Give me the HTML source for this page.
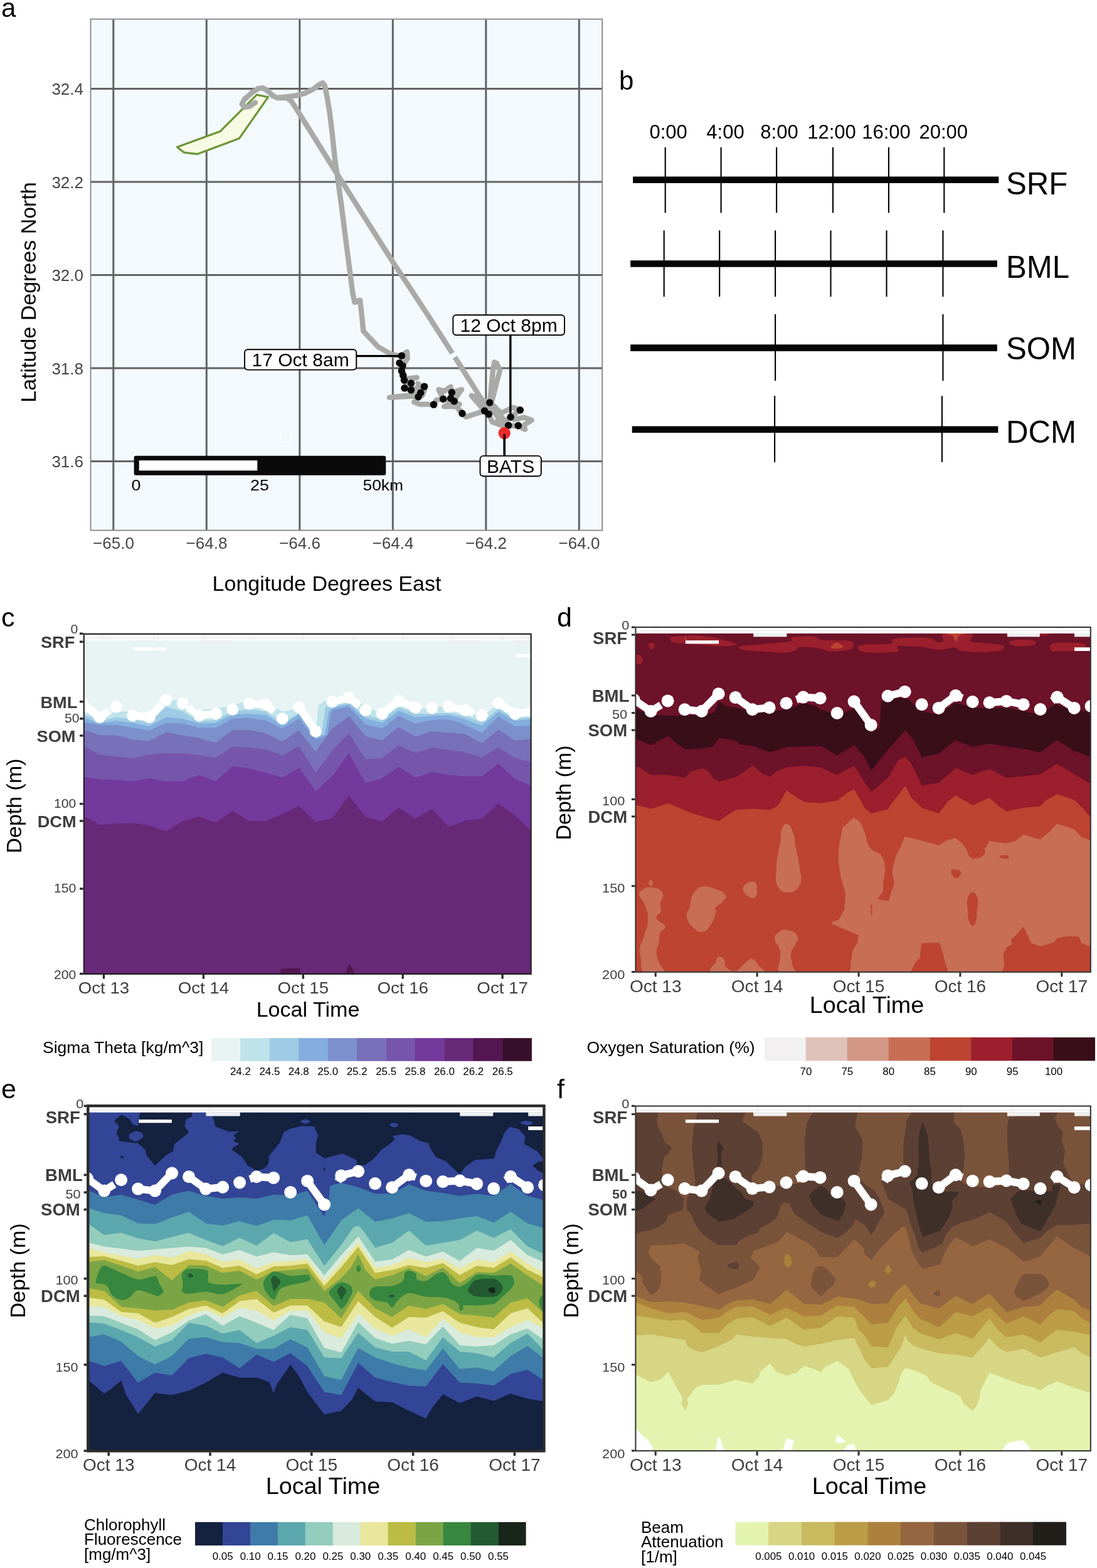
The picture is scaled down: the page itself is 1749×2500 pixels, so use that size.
<!DOCTYPE html>
<html lang="en"><head><meta charset="utf-8"><title>Figure</title>
<style>html,body{margin:0;padding:0;background:#fff}svg{display:block}text{font-family:"Liberation Sans",Arial,Helvetica,sans-serif}</style>
</head><body>
<svg width="1749" height="2500" viewBox="0 0 1749 2500" role="img" aria-label="Figure with panels a to f">
<rect width="1749" height="2500" fill="#fff"/>
<text x="2" y="27" font-size="42" fill="#000">a</text>
<rect x="144.5" y="30.5" width="815.7" height="815.1" fill="#f3f9fc"/>
<line x1="180.8" y1="30.5" x2="180.8" y2="845.6" stroke="#626262" stroke-width="3.0"/>
<line x1="329.3" y1="30.5" x2="329.3" y2="845.6" stroke="#626262" stroke-width="3.0"/>
<line x1="477.8" y1="30.5" x2="477.8" y2="845.6" stroke="#626262" stroke-width="3.0"/>
<line x1="626.3" y1="30.5" x2="626.3" y2="845.6" stroke="#626262" stroke-width="3.0"/>
<line x1="774.8" y1="30.5" x2="774.8" y2="845.6" stroke="#626262" stroke-width="3.0"/>
<line x1="923.3" y1="30.5" x2="923.3" y2="845.6" stroke="#626262" stroke-width="3.0"/>
<line x1="144.5" y1="141.5" x2="960.2" y2="141.5" stroke="#626262" stroke-width="3.0"/>
<line x1="144.5" y1="290" x2="960.2" y2="290" stroke="#626262" stroke-width="3.0"/>
<line x1="144.5" y1="438.5" x2="960.2" y2="438.5" stroke="#626262" stroke-width="3.0"/>
<line x1="144.5" y1="587" x2="960.2" y2="587" stroke="#626262" stroke-width="3.0"/>
<line x1="144.5" y1="735.5" x2="960.2" y2="735.5" stroke="#626262" stroke-width="3.0"/>
<rect x="144.5" y="30.5" width="815.7" height="815.1" fill="none" stroke="#858585" stroke-width="1.8"/>
<text x="181" y="874.5" font-size="26" text-anchor="middle" fill="#464646">−65.0</text>
<text x="329.5" y="874.5" font-size="26" text-anchor="middle" fill="#464646">−64.8</text>
<text x="478" y="874.5" font-size="26" text-anchor="middle" fill="#464646">−64.6</text>
<text x="626.5" y="874.5" font-size="26" text-anchor="middle" fill="#464646">−64.4</text>
<text x="775" y="874.5" font-size="26" text-anchor="middle" fill="#464646">−64.2</text>
<text x="923.5" y="874.5" font-size="26" text-anchor="middle" fill="#464646">−64.0</text>
<text x="133" y="151.3" font-size="26" text-anchor="end" fill="#464646">32.4</text>
<text x="133" y="299.8" font-size="26" text-anchor="end" fill="#464646">32.2</text>
<text x="133" y="448.3" font-size="26" text-anchor="end" fill="#464646">32.0</text>
<text x="133" y="596.8" font-size="26" text-anchor="end" fill="#464646">31.8</text>
<text x="133" y="745.3" font-size="26" text-anchor="end" fill="#464646">31.6</text>
<text x="521" y="942" font-size="34" text-anchor="middle" fill="#000">Longitude Degrees East</text>
<text x="57" y="466" font-size="34" text-anchor="middle" fill="#000" transform="rotate(-90 57 466)">Latitude Degrees North</text>
<polygon points="282.4,234.5 350.9,209.6 409.4,151.1 427.4,154.8 381.3,220.8 314.3,245.7 293.6,243.2" fill="#f8fbe3" stroke="#6c9436" stroke-width="3.2" stroke-linejoin="round"/>
<polyline points="406.9,163.5 398.2,169.7 389.5,171 385.8,166 389.5,158.5 402,147.3 411.9,141.1 419.4,140.3 426.9,144.8 434.3,152.3 441.8,156 456.8,154.3 471.7,152.3 486.7,148.6 499.1,142.3 509.1,134.9 514.5,132.4 517.8,136.1 521.5,154.8 525.3,177.2 529,207.1 534,254.4 539,289.3 543.9,324.2 550.2,374 562.3,467 565.4,482 574,478.5 576.5,500 579.4,528 602.7,552.9 624.5,565.4 640.7,567.6" fill="none" stroke="#a9aaa7" stroke-width="8.4" stroke-linecap="round" stroke-linejoin="round"/>
<polyline points="441.8,156 456.8,156 464.2,161 471.7,172.2 534,271.9 626.1,417.2 680.6,500 721.2,563.2" fill="none" stroke="#a9aaa7" stroke-width="8.4" stroke-linecap="butt" stroke-linejoin="round"/>
<polyline points="725.2,569.4 774.3,647" fill="none" stroke="#a9aaa7" stroke-width="8.4" stroke-linecap="butt" stroke-linejoin="round"/>
<polyline points="640.4,567.4 648.8,560.9 649.7,571.4 642.7,581.8 641,592.3 643.6,604.5 664.5,601.9 650.6,606.2 645.3,618.5 655.8,621.9 669.7,616.7 678.5,615 669.7,627.2 657.5,629.8 620.9,633.6 657.5,631.5 667.1,634.1 660.1,641.1 669.7,644.6 681.9,644.6 691.5,645.1 695.9,637.6 706.7,636.2 699.4,621.1 708.1,623.7 718.5,616.7 720.3,625.8 736,621.1 729,630.7 724.1,639.7 708.1,648.1 727.3,648.1 736.9,659.1 743,664.7 772.6,655.1 779.2,660.3 784.8,672.5 798.7,677.7 810.6,678.2 826.6,679.5 837.1,684.7 835.4,677.7 847.6,669.9 835.4,665.5 819.7,669 814.1,665 829.3,653.8 817.9,649.8 798.7,658.5 788.3,648.1 780.8,642 751.7,630.7 772.6,655.1" fill="none" stroke="#a9aaa7" stroke-width="8.4" stroke-linecap="round" stroke-linejoin="round"/>
<polyline points="781.3,639.4 785.7,592.3 788.3,577.5 791.8,579.2 797,590.6 791.8,609.7 784.8,637.6" fill="none" stroke="#a9aaa7" stroke-width="8.4" stroke-linecap="round" stroke-linejoin="round"/>
<polyline points="774.3,647 774.3,642.9 791.8,662 804,679.5" fill="none" stroke="#a9aaa7" stroke-width="8.4" stroke-linecap="round" stroke-linejoin="round"/>
<polyline points="784.8,651.6 800.5,665.5 791.8,672.5 809.2,669" fill="none" stroke="#a9aaa7" stroke-width="8.4" stroke-linecap="round" stroke-linejoin="round"/>
<polyline points="715.1,637.6 732.5,644.6 722,644.6" fill="none" stroke="#a9aaa7" stroke-width="8.4" stroke-linecap="round" stroke-linejoin="round"/>
<polyline points="666.2,611.5 676.7,621.9 673.2,630.7" fill="none" stroke="#a9aaa7" stroke-width="8.4" stroke-linecap="round" stroke-linejoin="round"/>
<line x1="813.8" y1="533" x2="813.8" y2="665" stroke="#000" stroke-width="3.4"/>
<line x1="567" y1="567.6" x2="640.5" y2="567.6" stroke="#000" stroke-width="3.4"/>
<line x1="804.2" y1="691" x2="804.2" y2="728" stroke="#000" stroke-width="3"/>
<circle cx="640.4" cy="567.4" r="5.8" fill="#0a0a0a"/>
<circle cx="637" cy="578.7" r="5.8" fill="#0a0a0a"/>
<circle cx="641.8" cy="583.2" r="5.8" fill="#0a0a0a"/>
<circle cx="640.4" cy="591.4" r="5.8" fill="#0a0a0a"/>
<circle cx="642.7" cy="598.4" r="5.8" fill="#0a0a0a"/>
<circle cx="644.5" cy="606.2" r="5.8" fill="#0a0a0a"/>
<circle cx="655.4" cy="611.1" r="5.8" fill="#0a0a0a"/>
<circle cx="645" cy="618.8" r="5.8" fill="#0a0a0a"/>
<circle cx="655.4" cy="621.9" r="5.8" fill="#0a0a0a"/>
<circle cx="676.4" cy="616.4" r="5.8" fill="#0a0a0a"/>
<circle cx="670.6" cy="626.3" r="5.8" fill="#0a0a0a"/>
<circle cx="667.1" cy="632.7" r="5.8" fill="#0a0a0a"/>
<circle cx="691.5" cy="645.1" r="5.8" fill="#0a0a0a"/>
<circle cx="706.7" cy="636.2" r="5.8" fill="#0a0a0a"/>
<circle cx="720.3" cy="625.8" r="5.8" fill="#0a0a0a"/>
<circle cx="718.5" cy="635" r="5.8" fill="#0a0a0a"/>
<circle cx="724.1" cy="639.7" r="5.8" fill="#0a0a0a"/>
<circle cx="736.9" cy="659.1" r="5.8" fill="#0a0a0a"/>
<circle cx="780.8" cy="642" r="5.8" fill="#0a0a0a"/>
<circle cx="772.6" cy="655.1" r="5.8" fill="#0a0a0a"/>
<circle cx="779.2" cy="660.3" r="5.8" fill="#0a0a0a"/>
<circle cx="814.1" cy="665" r="5.8" fill="#0a0a0a"/>
<circle cx="829.3" cy="653.8" r="5.8" fill="#0a0a0a"/>
<circle cx="810.6" cy="678.2" r="5.8" fill="#0a0a0a"/>
<circle cx="826.3" cy="678.6" r="5.8" fill="#0a0a0a"/>
<circle cx="804.2" cy="690.6" r="9.6" fill="#eb2a2c"/>
<line x1="804.2" y1="692" x2="804.2" y2="728" stroke="#000" stroke-width="3.4"/>
<circle cx="456" cy="696" r="9.5" fill="none" stroke="#fff" stroke-width="1.6"/>
<rect x="722.3" y="502.3" width="177.7" height="31.9" rx="5" ry="5" fill="#fff" stroke="#000" stroke-width="1.9"/>
<text x="811.1" y="529" font-size="30" text-anchor="middle" fill="#000">12 Oct 8pm</text>
<rect x="390" y="557.3" width="178.2" height="32.3" rx="5" ry="5" fill="#fff" stroke="#000" stroke-width="1.9"/>
<text x="479.1" y="584" font-size="30" text-anchor="middle" fill="#000">17 Oct 8am</text>
<rect x="765.5" y="726.9" width="97.3" height="32.4" rx="5" ry="5" fill="#fff" stroke="#000" stroke-width="1.9"/>
<text x="814.1" y="754" font-size="30" text-anchor="middle" fill="#000">BATS</text>
<rect x="213.6" y="726.7" width="401.6" height="31.1" rx="3" ry="3" fill="#0a0a0a"/>
<rect x="221.7" y="734.1" width="188.6" height="16.2" fill="#fff"/>
<text transform="translate(217 781.8) scale(1.12 1)" font-size="24" text-anchor="middle" fill="#000">0</text>
<text transform="translate(414 781.8) scale(1.12 1)" font-size="24" text-anchor="middle" fill="#000">25</text>
<text transform="translate(578.5 781.8) scale(1.1 1)" font-size="24" fill="#000">50km</text>
<text x="987" y="143" font-size="42" fill="#000">b</text>
<text x="1065.6" y="221" font-size="31" text-anchor="middle" fill="#000">0:00</text>
<text x="1156.5" y="221" font-size="31" text-anchor="middle" fill="#000">4:00</text>
<text x="1242.5" y="221" font-size="31" text-anchor="middle" fill="#000">8:00</text>
<text x="1326" y="221" font-size="31" text-anchor="middle" fill="#000">12:00</text>
<text x="1413" y="221" font-size="31" text-anchor="middle" fill="#000">16:00</text>
<text x="1504.3" y="221" font-size="31" text-anchor="middle" fill="#000">20:00</text>
<line x1="1060.7" y1="234.8" x2="1060.7" y2="339.4" stroke="#000" stroke-width="2.1"/>
<line x1="1149.6" y1="234.8" x2="1149.6" y2="339.4" stroke="#000" stroke-width="2.1"/>
<line x1="1238.1" y1="234.8" x2="1238.1" y2="339.4" stroke="#000" stroke-width="2.1"/>
<line x1="1328" y1="234.8" x2="1328" y2="339.4" stroke="#000" stroke-width="2.1"/>
<line x1="1416.9" y1="234.8" x2="1416.9" y2="339.4" stroke="#000" stroke-width="2.1"/>
<line x1="1505.3" y1="234.8" x2="1505.3" y2="339.4" stroke="#000" stroke-width="2.1"/>
<line x1="1009.1" y1="286.8" x2="1592.3" y2="286.8" stroke="#050505" stroke-width="10.6"/>
<text x="1604" y="309.9" font-size="49.2" fill="#000">SRF</text>
<line x1="1058.7" y1="367.4" x2="1058.7" y2="473" stroke="#000" stroke-width="2.1"/>
<line x1="1147.2" y1="367.4" x2="1147.2" y2="473" stroke="#000" stroke-width="2.1"/>
<line x1="1236.1" y1="367.4" x2="1236.1" y2="473" stroke="#000" stroke-width="2.1"/>
<line x1="1324.5" y1="367.4" x2="1324.5" y2="473" stroke="#000" stroke-width="2.1"/>
<line x1="1413.5" y1="367.4" x2="1413.5" y2="473" stroke="#000" stroke-width="2.1"/>
<line x1="1503.4" y1="367.4" x2="1503.4" y2="473" stroke="#000" stroke-width="2.1"/>
<line x1="1005.2" y1="420.5" x2="1589.8" y2="420.5" stroke="#050505" stroke-width="10.6"/>
<text x="1604" y="442.6" font-size="49.2" fill="#000">BML</text>
<line x1="1236.1" y1="501" x2="1236.1" y2="607.1" stroke="#000" stroke-width="2.1"/>
<line x1="1503.4" y1="501" x2="1503.4" y2="607.1" stroke="#000" stroke-width="2.1"/>
<line x1="1005.2" y1="554.6" x2="1589.8" y2="554.6" stroke="#050505" stroke-width="10.6"/>
<text x="1604" y="572.8" font-size="49.2" fill="#000">SOM</text>
<line x1="1235.1" y1="631.2" x2="1235.1" y2="736.8" stroke="#000" stroke-width="2.1"/>
<line x1="1501.9" y1="631.2" x2="1501.9" y2="736.8" stroke="#000" stroke-width="2.1"/>
<line x1="1007.7" y1="684.8" x2="1591.3" y2="684.8" stroke="#050505" stroke-width="10.6"/>
<text x="1604" y="706.4" font-size="49.2" fill="#000">DCM</text>
<text x="2" y="999" font-size="43" fill="#000">c</text>
<clipPath id="cpc"><rect x="133.8" y="1010.8" width="712.8" height="542.1"/></clipPath>
<g clip-path="url(#cpc)">
<rect x="133.8" y="1010.8" width="712.8" height="542.1" fill="#e8f4f4"/>
<polygon points="102.2,1134.5 132.2,1134.5 158.7,1143.5 185.2,1134.5 211.7,1134.5 238.2,1137.9 264.7,1115.4 291.2,1116.6 317.7,1132.3 344.2,1130 370.7,1124.4 397.2,1116.6 423.7,1118.8 450.2,1134.5 476.7,1130 503.2,1172.6 507.2,1125.5 513.8,1119.9 529.7,1112.1 556.2,1105.4 582.7,1125.5 609.2,1139 635.7,1121 662.2,1132.3 688.7,1126.7 715.2,1126.7 741.7,1134.5 768.2,1143.5 794.7,1121 821.2,1139 847.7,1134.5 877.7,1134.5 886.6,1557.9 93.8,1557.9" fill="#bfe3ea"/>
<polygon points="102.2,1137.9 132.2,1137.9 158.7,1150.2 185.2,1143.5 211.7,1146.8 238.2,1152.4 264.7,1126.7 291.2,1134.5 317.7,1150.2 344.2,1147.9 370.7,1134.5 397.2,1131.1 423.7,1134.5 450.2,1152.4 476.7,1136.7 503.2,1176 513.8,1161.4 519.1,1126.7 529.7,1125.5 556.2,1121 582.7,1141.2 609.2,1146.8 635.7,1127.8 662.2,1137.9 688.7,1137.9 715.2,1136.7 741.7,1142.3 768.2,1151.3 794.7,1130 821.2,1145.7 847.7,1143.5 877.7,1143.5 886.6,1557.9 93.8,1557.9" fill="#9fcbe4"/>
<polygon points="102.2,1143.5 132.2,1143.5 158.7,1153.6 185.2,1149.1 211.7,1152.4 238.2,1158 264.7,1143.5 291.2,1145.7 317.7,1153.6 344.2,1152.4 370.7,1139 397.2,1137.9 423.7,1140.1 450.2,1155.8 476.7,1139 503.2,1177.1 517.8,1170.4 523.9,1134.5 529.7,1128.9 556.2,1123.3 582.7,1145.7 609.2,1152.4 635.7,1133.4 662.2,1143.5 688.7,1141.2 715.2,1140.1 741.7,1146.8 768.2,1156.9 794.7,1134.5 821.2,1149.1 847.7,1146.8 877.7,1146.8 886.6,1557.9 93.8,1557.9" fill="#84aede"/>
<polygon points="102.2,1151.3 132.2,1151.3 158.7,1155.8 185.2,1155.8 211.7,1160.3 238.2,1164.8 264.7,1152.4 291.2,1153.6 317.7,1160.3 344.2,1160.3 370.7,1145.7 397.2,1144.6 423.7,1149.1 450.2,1161.4 476.7,1145.7 503.2,1179.3 521.8,1172.6 527,1139 529.7,1132.3 556.2,1127.3 582.7,1154.7 609.2,1161.4 635.7,1141.2 662.2,1153.6 688.7,1147.9 715.2,1146.8 741.7,1155.8 768.2,1168.1 794.7,1142.3 821.2,1158 847.7,1156.9 877.7,1156.9 886.6,1557.9 93.8,1557.9" fill="#7c90cc"/>
<polygon points="102.2,1163.6 132.2,1163.6 158.7,1172.2 185.2,1172.2 211.7,1179.3 238.2,1181.6 264.7,1167 291.2,1172.6 317.7,1177.1 344.2,1184.3 370.7,1164.1 397.2,1164.1 423.7,1169.2 450.2,1182 476.7,1164.8 503.2,1198.4 529.7,1161.4 556.2,1142.3 582.7,1173.7 609.2,1180.5 635.7,1159.2 662.2,1174.4 688.7,1166.3 715.2,1167.7 741.7,1170.8 768.2,1184.9 794.7,1163.6 821.2,1180.5 847.7,1178.2 877.7,1178.2 886.6,1557.9 93.8,1557.9" fill="#7870b8"/>
<polygon points="102.2,1189.4 132.2,1189.4 158.7,1202.9 185.2,1206.2 211.7,1208.9 238.2,1202.9 264.7,1201.1 291.2,1201.1 317.7,1204 344.2,1208 370.7,1190.5 397.2,1191.7 423.7,1195 450.2,1204.4 476.7,1189.4 503.2,1232 529.7,1197.3 556.2,1169.2 582.7,1210.7 609.2,1208.5 635.7,1187.9 662.2,1200.6 688.7,1191.7 715.2,1196.1 741.7,1199.5 768.2,1207.4 794.7,1191.7 821.2,1208.5 847.7,1215.2 877.7,1215.2 886.6,1557.9 93.8,1557.9" fill="#7656aa"/>
<polygon points="102.2,1238.7 132.2,1238.7 158.7,1242.5 185.2,1243.2 211.7,1246.1 238.2,1241 264.7,1246.1 291.2,1245.5 317.7,1235.4 344.2,1245.5 370.7,1221.5 397.2,1225.3 423.7,1232 450.2,1239.9 476.7,1224.2 503.2,1261.2 529.7,1237.6 556.2,1201.1 582.7,1248.4 609.2,1241 635.7,1222.6 662.2,1239.9 688.7,1230.9 715.2,1235.4 741.7,1237.6 768.2,1237.6 794.7,1217.4 821.2,1242.1 847.7,1253.3 877.7,1253.3 886.6,1557.9 93.8,1557.9" fill="#73399c"/>
<polygon points="102.2,1300.4 132.2,1300.4 158.7,1315 185.2,1313.4 211.7,1312.3 238.2,1316.1 264.7,1325.5 291.2,1309.3 317.7,1302.2 344.2,1311.6 370.7,1292.5 397.2,1308.9 423.7,1308.9 450.2,1298.1 476.7,1285.1 503.2,1310.5 529.7,1304.9 556.2,1268.5 582.7,1302.6 609.2,1310 635.7,1287.4 662.2,1305.3 688.7,1289.8 715.2,1318.3 741.7,1308.2 768.2,1304.9 794.7,1281.3 821.2,1300.4 847.7,1325 877.7,1325 886.6,1557.9 93.8,1557.9" fill="#672878"/>
<polygon points="446,1554 448,1544.5 478,1543.5 480,1554" fill="#541650"/>
<polygon points="550,1554 557,1536 567,1554" fill="#541650"/>
<rect x="133.8" y="1010.8" width="712.8" height="10.4" fill="#fbfbfb"/>
<line x1="133.8" y1="1016.8" x2="846.6" y2="1016.8" stroke="#ebebeb" stroke-width="1.4"/>
<line x1="165.9" y1="1012" x2="165.9" y2="1021.2" stroke="#ebebeb" stroke-width="1.4"/>
<line x1="245.4" y1="1012" x2="245.4" y2="1021.2" stroke="#ebebeb" stroke-width="1.4"/>
<line x1="324.8" y1="1012" x2="324.8" y2="1021.2" stroke="#ebebeb" stroke-width="1.4"/>
<line x1="404.2" y1="1012" x2="404.2" y2="1021.2" stroke="#ebebeb" stroke-width="1.4"/>
<line x1="483.7" y1="1012" x2="483.7" y2="1021.2" stroke="#ebebeb" stroke-width="1.4"/>
<line x1="563.1" y1="1012" x2="563.1" y2="1021.2" stroke="#ebebeb" stroke-width="1.4"/>
<line x1="642.6" y1="1012" x2="642.6" y2="1021.2" stroke="#ebebeb" stroke-width="1.4"/>
<line x1="722" y1="1012" x2="722" y2="1021.2" stroke="#ebebeb" stroke-width="1.4"/>
<line x1="801.5" y1="1012" x2="801.5" y2="1021.2" stroke="#ebebeb" stroke-width="1.4"/>
<line x1="881" y1="1012" x2="881" y2="1021.2" stroke="#ebebeb" stroke-width="1.4"/>
<rect x="318.3" y="1021" width="52.7" height="5.2" fill="#eceff0"/>
<rect x="714.8" y="1021" width="52.7" height="5.2" fill="#eceff0"/>
<rect x="821.8" y="1021" width="24.7" height="5.2" fill="#eceff0"/>
<rect x="212.5" y="1032" width="31.8" height="5" fill="#fff"/>
<rect x="246.1" y="1032" width="18.4" height="5" fill="#fff"/>
<rect x="821.8" y="1042.6" width="24.7" height="5.1" fill="#fff"/>
<polyline points="132.2,1122.2 158.7,1143.5 174.6,1133.4" fill="none" stroke="#fff" stroke-width="12" stroke-linecap="butt" stroke-linejoin="round"/>
<polyline points="211.7,1140.8 238.2,1143.5 258.1,1123" fill="none" stroke="#fff" stroke-width="12" stroke-linecap="butt" stroke-linejoin="round"/>
<polyline points="299.1,1127.3 317.7,1140.8 344.2,1137.9" fill="none" stroke="#fff" stroke-width="12" stroke-linecap="butt" stroke-linejoin="round"/>
<polyline points="397.2,1122.2 423.7,1123.3 436.9,1134.5" fill="none" stroke="#fff" stroke-width="12" stroke-linecap="butt" stroke-linejoin="round"/>
<polyline points="476.7,1127.8 503.2,1165.9" fill="none" stroke="#fff" stroke-width="12" stroke-linecap="butt" stroke-linejoin="round"/>
<polyline points="529.7,1118.8 556.2,1112.1 573.4,1125.2" fill="none" stroke="#fff" stroke-width="12" stroke-linecap="butt" stroke-linejoin="round"/>
<polyline points="609.2,1137.9 635.7,1117.7 662.2,1128.2" fill="none" stroke="#fff" stroke-width="12" stroke-linecap="butt" stroke-linejoin="round"/>
<polyline points="715.2,1126.7 741.7,1132.3 755,1136.4" fill="none" stroke="#fff" stroke-width="12" stroke-linecap="butt" stroke-linejoin="round"/>
<polyline points="794.7,1121 821.2,1138.3 847.7,1134.5" fill="none" stroke="#fff" stroke-width="12" stroke-linecap="butt" stroke-linejoin="round"/>
<circle cx="132.2" cy="1122.2" r="9.6" fill="#fff"/>
<circle cx="158.7" cy="1143.5" r="9.6" fill="#fff"/>
<circle cx="185.2" cy="1126.7" r="9.6" fill="#fff"/>
<circle cx="211.7" cy="1140.8" r="9.6" fill="#fff"/>
<circle cx="238.2" cy="1143.5" r="9.6" fill="#fff"/>
<circle cx="264.7" cy="1116.1" r="9.6" fill="#fff"/>
<circle cx="291.2" cy="1121.5" r="9.6" fill="#fff"/>
<circle cx="317.7" cy="1140.8" r="9.6" fill="#fff"/>
<circle cx="344.2" cy="1137.9" r="9.6" fill="#fff"/>
<circle cx="370.7" cy="1131.1" r="9.6" fill="#fff"/>
<circle cx="397.2" cy="1122.2" r="9.6" fill="#fff"/>
<circle cx="423.7" cy="1123.3" r="9.6" fill="#fff"/>
<circle cx="450.2" cy="1145.7" r="9.6" fill="#fff"/>
<circle cx="476.7" cy="1127.8" r="9.6" fill="#fff"/>
<circle cx="503.2" cy="1165.9" r="9.6" fill="#fff"/>
<circle cx="529.7" cy="1118.8" r="9.6" fill="#fff"/>
<circle cx="556.2" cy="1112.1" r="9.6" fill="#fff"/>
<circle cx="582.7" cy="1132.3" r="9.6" fill="#fff"/>
<circle cx="609.2" cy="1137.9" r="9.6" fill="#fff"/>
<circle cx="635.7" cy="1117.7" r="9.6" fill="#fff"/>
<circle cx="662.2" cy="1128.2" r="9.6" fill="#fff"/>
<circle cx="688.7" cy="1128.9" r="9.6" fill="#fff"/>
<circle cx="715.2" cy="1126.7" r="9.6" fill="#fff"/>
<circle cx="741.7" cy="1132.3" r="9.6" fill="#fff"/>
<circle cx="768.2" cy="1140.6" r="9.6" fill="#fff"/>
<circle cx="794.7" cy="1121" r="9.6" fill="#fff"/>
<circle cx="821.2" cy="1138.3" r="9.6" fill="#fff"/>
<circle cx="847.7" cy="1134.5" r="9.6" fill="#fff"/>
</g>
<rect x="133.8" y="1010.8" width="712.8" height="542.1" fill="none" stroke="#222" stroke-width="2.2"/>
<line x1="127" y1="1010.2" x2="132.7" y2="1010.2" stroke="#2e2e2e" stroke-width="3.4"/>
<line x1="127" y1="1023.2" x2="132.7" y2="1023.2" stroke="#2e2e2e" stroke-width="3.4"/>
<line x1="127" y1="1118.7" x2="132.7" y2="1118.7" stroke="#2e2e2e" stroke-width="3.4"/>
<line x1="127" y1="1145.8" x2="132.7" y2="1145.8" stroke="#2e2e2e" stroke-width="3.4"/>
<line x1="127" y1="1172.9" x2="132.7" y2="1172.9" stroke="#2e2e2e" stroke-width="3.4"/>
<line x1="127" y1="1281.7" x2="132.7" y2="1281.7" stroke="#2e2e2e" stroke-width="3.4"/>
<line x1="127" y1="1308.9" x2="132.7" y2="1308.9" stroke="#2e2e2e" stroke-width="3.4"/>
<line x1="127" y1="1417" x2="132.7" y2="1417" stroke="#2e2e2e" stroke-width="3.4"/>
<line x1="127" y1="1552.6" x2="132.7" y2="1552.6" stroke="#2e2e2e" stroke-width="3.4"/>
<text transform="translate(124.4 1010) scale(1.04 1)" font-size="20.4" text-anchor="end" fill="#3e3e3e">0</text>
<text transform="translate(126.6 1152) scale(1.04 1)" font-size="20.4" text-anchor="end" fill="#3e3e3e">50</text>
<text transform="translate(121.4 1287.9) scale(1.04 1)" font-size="20.4" text-anchor="end" fill="#3e3e3e">100</text>
<text transform="translate(121.4 1423.3) scale(1.04 1)" font-size="20.4" text-anchor="end" fill="#3e3e3e">150</text>
<text transform="translate(121.4 1560.8) scale(1.04 1)" font-size="20.4" text-anchor="end" fill="#3e3e3e">200</text>
<text transform="translate(119.4 1033.4) scale(1.02 1)" font-size="26.7" text-anchor="end" font-weight="bold" fill="#3e3e3e">SRF</text>
<text transform="translate(123.4 1128.5) scale(1.02 1)" font-size="26.7" text-anchor="end" font-weight="bold" fill="#3e3e3e">BML</text>
<text transform="translate(120.5 1183) scale(1.02 1)" font-size="26.7" text-anchor="end" font-weight="bold" fill="#3e3e3e">SOM</text>
<text transform="translate(121.7 1319) scale(1.02 1)" font-size="26.7" text-anchor="end" font-weight="bold" fill="#3e3e3e">DCM</text>
<line x1="165.5" y1="1554" x2="165.5" y2="1560.7" stroke="#2e2e2e" stroke-width="3.4"/>
<text transform="translate(165.5 1583.8) scale(1.04 1)" font-size="26.6" text-anchor="middle" fill="#3e3e3e">Oct 13</text>
<line x1="324.4" y1="1554" x2="324.4" y2="1560.7" stroke="#2e2e2e" stroke-width="3.4"/>
<text transform="translate(324.4 1583.8) scale(1.04 1)" font-size="26.6" text-anchor="middle" fill="#3e3e3e">Oct 14</text>
<line x1="483.3" y1="1554" x2="483.3" y2="1560.7" stroke="#2e2e2e" stroke-width="3.4"/>
<text transform="translate(483.3 1583.8) scale(1.04 1)" font-size="26.6" text-anchor="middle" fill="#3e3e3e">Oct 15</text>
<line x1="642.2" y1="1554" x2="642.2" y2="1560.7" stroke="#2e2e2e" stroke-width="3.4"/>
<text transform="translate(642.2 1583.8) scale(1.04 1)" font-size="26.6" text-anchor="middle" fill="#3e3e3e">Oct 16</text>
<line x1="801.1" y1="1554" x2="801.1" y2="1560.7" stroke="#2e2e2e" stroke-width="3.4"/>
<text transform="translate(801.1 1583.8) scale(1.04 1)" font-size="26.6" text-anchor="middle" fill="#3e3e3e">Oct 17</text>
<text x="34" y="1285" font-size="34" text-anchor="middle" fill="#000" transform="rotate(-90 34 1285)">Depth (m)</text>
<text transform="translate(491 1621) scale(1.02 1)" font-size="33.4" text-anchor="middle" fill="#000">Local Time</text>
<text x="68" y="1678.5" font-size="26.5" fill="#000">Sigma Theta [kg/m^3]</text>
<rect x="336.8" y="1655.1" width="46.8" height="36.7" fill="#e8f4f4"/>
<rect x="383.2" y="1655.1" width="46.8" height="36.7" fill="#bfe3ea"/>
<rect x="429.7" y="1655.1" width="46.8" height="36.7" fill="#9fcbe4"/>
<rect x="476.1" y="1655.1" width="46.8" height="36.7" fill="#84aede"/>
<rect x="522.5" y="1655.1" width="46.8" height="36.7" fill="#7c90cc"/>
<rect x="568.9" y="1655.1" width="46.8" height="36.7" fill="#7870b8"/>
<rect x="615.4" y="1655.1" width="46.8" height="36.7" fill="#7656aa"/>
<rect x="661.8" y="1655.1" width="46.8" height="36.7" fill="#73399c"/>
<rect x="708.2" y="1655.1" width="46.8" height="36.7" fill="#672878"/>
<rect x="754.6" y="1655.1" width="46.8" height="36.7" fill="#541650"/>
<rect x="801.1" y="1655.1" width="46.8" height="36.7" fill="#36102a"/>
<text x="383.4" y="1714.2" font-size="16.9" text-anchor="middle" fill="#000">24.2</text>
<text x="429.9" y="1714.2" font-size="16.9" text-anchor="middle" fill="#000">24.5</text>
<text x="476.3" y="1714.2" font-size="16.9" text-anchor="middle" fill="#000">24.8</text>
<text x="522.7" y="1714.2" font-size="16.9" text-anchor="middle" fill="#000">25.0</text>
<text x="569.1" y="1714.2" font-size="16.9" text-anchor="middle" fill="#000">25.2</text>
<text x="615.6" y="1714.2" font-size="16.9" text-anchor="middle" fill="#000">25.5</text>
<text x="662" y="1714.2" font-size="16.9" text-anchor="middle" fill="#000">25.8</text>
<text x="708.4" y="1714.2" font-size="16.9" text-anchor="middle" fill="#000">26.0</text>
<text x="754.8" y="1714.2" font-size="16.9" text-anchor="middle" fill="#000">26.2</text>
<text x="801.3" y="1714.2" font-size="16.9" text-anchor="middle" fill="#000">26.5</text>
<text x="888" y="998.5" font-size="43" fill="#000">d</text>
<clipPath id="cpd"><rect x="1013.4" y="1000" width="725.4" height="549.8"/></clipPath>
<g clip-path="url(#cpd)">
<rect x="1013.4" y="1000" width="725.4" height="549.8" fill="#6c1229"/>
<path d="M1034.2,1026.9C1035.1,1025.4 1036.6,1024.9 1038.8,1025C1040.9,1025.1 1042.6,1025.5 1043.4,1027.3C1044.2,1029.1 1043.6,1030.7 1042.3,1032.6C1040.9,1034.5 1039.4,1035.7 1037.6,1035.4C1035.9,1035.1 1035.7,1033.5 1034.9,1031.5C1034.1,1029.5 1033.3,1028.4 1034.2,1026.9Z" fill="#9b1f2c"/>
<path d="M1013.5,1044.8C1015.3,1042 1020.3,1043.9 1022.7,1046.4C1025.1,1049 1025.7,1052.9 1023.8,1055.7C1021.9,1058.5 1017,1061 1014.6,1058.4C1012.2,1055.9 1011.6,1047.6 1013.5,1044.8Z" fill="#9b1f2c"/>
<path d="M1069.9,1015.8C1073.8,1014.4 1077.4,1014.4 1086,1013.7C1094.6,1013.1 1096.5,1012.7 1106.8,1013C1117,1013.4 1120.1,1014 1129.8,1015.3C1139.5,1016.7 1138.6,1016.4 1148.2,1018.8C1157.9,1021.2 1166.4,1023.4 1171.3,1025.7C1176.1,1028 1174.3,1027.6 1169,1028.7C1163.6,1029.8 1158.4,1030.3 1148.2,1030.3C1138,1030.3 1135.9,1029.5 1125.2,1028.7C1114.4,1027.9 1114,1027.8 1102.2,1026.9C1090.3,1025.9 1082.1,1026.2 1074.5,1024.6C1066.9,1022.9 1070.5,1022 1069.4,1020C1068.4,1017.9 1066,1017.3 1069.9,1015.8Z" fill="#9b1f2c"/>
<path d="M1179.3,1031.5C1182.3,1030 1185.4,1029.8 1194.3,1028.7C1203.2,1027.6 1206.6,1027.8 1217.3,1026.9C1228.1,1025.9 1230.2,1025.6 1240.4,1024.6C1250.6,1023.5 1256,1024.1 1261.1,1022.3C1266.2,1020.4 1258.5,1018.2 1262.3,1016.5C1266,1014.8 1268.9,1015.3 1277.3,1014.9C1285.6,1014.5 1290.5,1013.7 1298,1014.9C1305.5,1016.1 1301.4,1018.5 1309.5,1020C1317.6,1021.4 1321.8,1020.6 1332.5,1021.1C1343.3,1021.6 1349,1020.6 1355.6,1022.3C1362.1,1023.9 1360.1,1025.3 1360.7,1028C1361.2,1030.7 1360.1,1031.8 1357.9,1033.8C1355.6,1035.8 1358,1035.4 1351,1036.5C1344,1037.7 1337.6,1039.2 1327.9,1038.8C1318.3,1038.5 1316.5,1036.4 1309.5,1034.9C1302.5,1033.5 1306,1033.4 1298,1032.6C1289.9,1031.8 1281.4,1030.7 1274.9,1031.5C1268.5,1032.3 1275.7,1033.9 1270.3,1036.1C1265,1038.2 1264.3,1040 1251.9,1040.7C1239.5,1041.3 1230.8,1039.6 1217.3,1038.8C1203.9,1038 1202.6,1038.1 1194.3,1037.2C1186,1036.3 1185.1,1036.3 1181.6,1034.9C1178.1,1033.6 1176.4,1032.9 1179.3,1031.5Z" fill="#9b1f2c"/>
<path d="M1324.5,1031.5C1324.7,1029.9 1326.7,1028.5 1329.1,1026.9C1331.5,1025.2 1332.2,1024.5 1334.8,1024.6C1337.5,1024.7 1338.5,1025.7 1340.6,1027.3C1342.8,1028.9 1344.9,1030 1344.1,1031.5C1343.3,1033 1340.9,1033.2 1337.2,1033.8C1333.4,1034.3 1330.9,1034.3 1327.9,1033.8C1325,1033.2 1324.2,1033.1 1324.5,1031.5Z" fill="#bc4430"/>
<path d="M1091.1,1017.2C1091.4,1016.4 1092.6,1016.2 1093.4,1016.7C1094.2,1017.3 1094.6,1018.7 1094.3,1019.5C1094,1020.2 1092.8,1020.5 1092,1020C1091.3,1019.4 1090.8,1017.9 1091.1,1017.2Z" fill="#bc4430"/>
<path d="M1369.4,1030.3C1372.4,1028.3 1380,1026.9 1383.2,1028.7C1386.5,1030.5 1386.2,1035.9 1383.2,1037.9C1380.3,1039.9 1373.8,1039 1370.6,1037.2C1367.3,1035.5 1366.4,1032.3 1369.4,1030.3Z" fill="#9b1f2c"/>
<path d="M1374.4,1028.7C1380.3,1026.1 1389,1028 1399.7,1027.3C1410.5,1026.6 1415.1,1027.5 1420.5,1025.7C1425.8,1023.9 1419,1021.5 1422.8,1019.5C1426.5,1017.5 1428,1017.9 1436.6,1017.2C1445.2,1016.5 1448.9,1016.4 1459.6,1016.5C1470.4,1016.6 1475.1,1016.3 1482.7,1017.6C1490.2,1019 1488.4,1020.7 1491.9,1022.3C1495.4,1023.8 1495,1024.4 1497.6,1024.1C1500.3,1023.8 1502.4,1024 1503.4,1021.1C1504.4,1018.3 1500.7,1014.5 1501.8,1011.9C1502.9,1009.3 1497.4,1010.5 1508,1010C1518.6,1009.6 1537.8,1007.2 1547.2,1010C1556.6,1012.9 1544.6,1018.9 1548.3,1022.3C1552.1,1025.6 1554.4,1023.4 1563.3,1024.6C1572.2,1025.7 1578.3,1026.1 1586.3,1027.3C1594.4,1028.5 1594.8,1027.9 1597.9,1029.6C1601,1031.4 1602.4,1032.9 1599.7,1034.9C1597,1037 1594.8,1037.3 1586.3,1038.4C1577.9,1039.5 1574.1,1039.8 1563.3,1039.8C1552.6,1039.8 1547.8,1039 1540.3,1038.4C1532.7,1037.8 1535.4,1038.6 1531.1,1037.2C1526.8,1035.9 1527.2,1033.3 1521.8,1032.6C1516.5,1031.9 1514.5,1033.4 1508,1034.2C1501.6,1035 1502.8,1036.7 1494.2,1036.1C1485.6,1035.4 1481.9,1032.8 1471.2,1031.5C1460.4,1030.2 1457.3,1030.8 1448.1,1030.5C1439,1030.3 1435.9,1028.4 1432,1030.3C1428.1,1032.3 1435.8,1036.5 1431.5,1038.8C1427.2,1041.2 1420.4,1039.8 1413.6,1040.2C1406.7,1040.7 1411.2,1041.1 1402,1040.7C1392.9,1040.3 1380.8,1041.2 1374.4,1038.4C1367.9,1035.6 1368.5,1031.3 1374.4,1028.7Z" fill="#9b1f2c"/>
<path d="M1510.3,1010C1515.2,1009.3 1533.4,1009.3 1538,1010C1542.5,1010.7 1532.5,1011.5 1529.9,1013C1527.3,1014.5 1528,1014.5 1526.9,1016.5C1525.8,1018.5 1526.2,1020.3 1525.3,1021.8C1524.4,1023.2 1524.1,1024 1523,1022.7C1521.9,1021.5 1522,1018.8 1520.7,1016.5C1519.3,1014.2 1519.7,1014.5 1517.2,1013C1514.8,1011.5 1505.5,1010.7 1510.3,1010Z" fill="#bc4430"/>
<path d="M1609.4,1024.6C1609.4,1022.6 1610.9,1022.2 1616.3,1021.1C1621.7,1020 1625.4,1020 1632.4,1020C1639.4,1020 1641.8,1020 1646.3,1021.1C1650.7,1022.2 1651.1,1022.8 1651.3,1024.6C1651.6,1026.3 1651.8,1027.3 1647.4,1028.7C1643,1030.1 1639.7,1030.3 1632.4,1030.5C1625.2,1030.8 1621.7,1031 1616.3,1029.6C1610.9,1028.2 1609.4,1026.5 1609.4,1024.6Z" fill="#9b1f2c"/>
<path d="M1675,1028C1676.7,1025.2 1676.9,1026.1 1683.1,1025.2C1689.3,1024.4 1691.9,1024.5 1701.5,1024.6C1711.2,1024.7 1718,1024.9 1724.6,1025.7C1731.1,1026.5 1728.5,1025.6 1729.7,1028C1730.8,1030.4 1733.5,1033.8 1729.7,1036.1C1725.8,1038.4 1722.3,1037.4 1713.1,1037.9C1703.8,1038.5 1698.6,1038.5 1690,1038.4C1681.4,1038.2 1679.7,1039.6 1676.2,1037.2C1672.7,1034.8 1673.4,1030.8 1675,1028Z" fill="#9b1f2c"/>
<path d="M1658.9,1010C1661.6,1009.2 1670.3,1009.5 1672.7,1010C1675.2,1010.6 1672,1011.5 1669.3,1012.3C1666.6,1013.2 1663.6,1014 1661.2,1013.5C1658.8,1013 1656.2,1010.9 1658.9,1010Z" fill="#9b1f2c"/>
<polygon points="1005.4,1128.2 1014.6,1130.5 1037.6,1140.2 1065.8,1140.9 1092.5,1140.9 1119.4,1139.8 1139,1136.3 1141.8,1128.2 1145.9,1117.9 1154,1123.6 1159.8,1126.4 1173.6,1128.2 1200.1,1134.7 1227.7,1135.1 1254.2,1130.5 1281.9,1120.9 1298,1124.8 1308.8,1131 1334.8,1139.8 1351,1134 1361.8,1129.4 1371.7,1139.8 1389.4,1167.4 1402,1160.5 1403.9,1137.4 1404.8,1117.9 1415.9,1115.6 1432,1112.1 1448.1,1114.4 1457.3,1123.6 1470,1134 1497,1139.8 1510.3,1129.4 1523.7,1120.2 1550.6,1128.2 1577.6,1129.4 1604.8,1128.2 1631.7,1134 1658.5,1139.8 1676.2,1125.9 1685.4,1122.5 1712.4,1135.1 1738.4,1132.8 1747.6,1132.8 1778.8,1554.8 973.4,1554.8" fill="#380e19"/>
<polygon points="1005.4,1174.3 1014.6,1177.8 1037.6,1188.1 1065.8,1173.2 1079.1,1185.8 1092.5,1195 1119.4,1193.2 1136.7,1190.4 1146.4,1176.2 1173.6,1181.2 1180.5,1187 1200.1,1189.3 1227.7,1199.2 1254.2,1191.1 1281.9,1190 1308.8,1189.3 1334.8,1204.3 1361.8,1188.1 1376.3,1204.3 1389.4,1228.5 1415.9,1195 1443.5,1163.9 1457.3,1181.2 1470,1207.7 1497,1200.8 1523.7,1180.1 1550.6,1191.1 1577.6,1185.8 1604.8,1190.4 1631.7,1193.9 1658.5,1199.2 1685.4,1180.1 1712.4,1197.3 1738.4,1206.6 1747.6,1208.9 1778.8,1554.8 973.4,1554.8" fill="#6c1229"/>
<polygon points="1005.4,1221.5 1018.1,1222.7 1037.6,1235.4 1065.8,1235.4 1092.5,1240 1099.9,1230.8 1119.4,1225 1129.8,1229.6 1136.7,1240 1146.4,1246.2 1173.6,1238.8 1200.1,1220.4 1215,1233.1 1227.7,1238.4 1238.1,1229.6 1254.2,1223.2 1281.9,1221.1 1308.8,1223.8 1334.8,1235.4 1361.8,1220.4 1371.7,1236.5 1379,1248 1389.4,1263 1415.9,1240 1432,1212.3 1443.5,1206.6 1452.7,1216.9 1470,1252.6 1497,1248 1523.7,1224.5 1550.6,1235.4 1577.6,1226.1 1604.8,1240 1631.7,1237.7 1658.5,1234.2 1685.4,1218.1 1712.4,1234.2 1738.4,1249.2 1747.6,1251.5 1778.8,1554.8 973.4,1554.8" fill="#9b1f2c"/>
<polygon points="1005.4,1282.6 1014.6,1283.3 1037.6,1289.5 1065.8,1281 1092.5,1292.5 1119.4,1301.7 1146.4,1309.3 1159.8,1299.4 1173.6,1291.3 1200.1,1289.5 1227.7,1291.3 1240.4,1284.4 1254.2,1260.2 1263.4,1267.2 1281.9,1278.7 1308.8,1280.5 1334.8,1276.4 1351,1263.7 1361.8,1258.6 1371.7,1275.2 1379,1289 1389.4,1297.1 1415.9,1290.2 1420.5,1282.1 1443.5,1253.3 1452.7,1271.8 1470,1287.9 1497,1297.1 1510.3,1278.7 1523.7,1268.3 1550.6,1284 1577.6,1271.8 1591,1284.4 1604.8,1293.7 1631.7,1287.9 1658.5,1285.6 1667,1276.4 1685.4,1266 1712.4,1275.2 1724.6,1286.7 1738.4,1302.9 1747.6,1305.6 1778.8,1554.8 973.4,1554.8" fill="#bc4430"/>
<path d="M1037.6,1414.7C1046.2,1415.6 1052.1,1415.7 1056.1,1422.8C1060.1,1429.9 1053.2,1433.2 1052.6,1441.2C1052,1449.2 1055.3,1446.6 1053.8,1452.7C1052.2,1458.9 1045,1457.8 1046.9,1464.3C1048.7,1470.7 1059.1,1470.8 1060.7,1476.9C1062.2,1483.1 1055.4,1480.2 1052.6,1487.3C1049.9,1494.4 1051.9,1495.4 1050.3,1503.4C1048.8,1511.4 1046.9,1509.3 1046.9,1517.3C1046.9,1525.2 1047.6,1524.2 1050.3,1533.4C1053.1,1542.6 1063.1,1546.9 1057.2,1551.8C1051.4,1556.7 1038,1558.6 1028.4,1551.8C1018.9,1545.1 1023.7,1537.5 1021.5,1526.5C1019.4,1515.4 1019.1,1518.9 1020.4,1510.3C1021.6,1501.7 1022.7,1505.9 1026.1,1494.2C1029.5,1482.5 1032.7,1480.7 1033,1466.6C1033.3,1452.4 1031,1451.7 1027.3,1441.2C1023.6,1430.8 1020.1,1433.2 1019.2,1427.4C1018.3,1421.6 1018.9,1422.7 1023.8,1419.3C1028.7,1416 1029,1413.8 1037.6,1414.7Z" fill="#c76e55"/>
<path d="M1037.6,1402.5C1039.4,1402.5 1040.9,1405.1 1040.9,1407.8C1040.9,1410.5 1039.4,1412.7 1037.6,1412.7C1035.9,1412.7 1034.4,1410.5 1034.4,1407.8C1034.4,1405.1 1035.9,1402.5 1037.6,1402.5Z" fill="#c76e55"/>
<path d="M1120.6,1413.6C1128.6,1412.7 1129.5,1413.7 1139,1417C1148.5,1420.4 1152.6,1421 1156.3,1426.2C1160,1431.5 1157.1,1430.8 1152.8,1436.6C1148.5,1442.5 1143.2,1443.2 1140.2,1448.1C1137.1,1453 1143.5,1447.7 1141.3,1455C1139.2,1462.4 1137.9,1467.6 1132.1,1475.8C1126.3,1484 1126.8,1485.1 1119.4,1485.7C1112.1,1486.3 1111,1484.7 1104.5,1478.1C1097.9,1471.4 1096,1469.4 1094.8,1460.8C1093.6,1452.2 1097.9,1453.5 1099.9,1445.8C1101.8,1438.2 1099.7,1438.8 1102.2,1432C1104.6,1425.2 1104.2,1425.4 1109.1,1420.5C1114,1415.6 1112.6,1414.5 1120.6,1413.6Z" fill="#c76e55"/>
<path d="M1200.1,1405.5C1206.1,1405.8 1207,1411.1 1207,1418.2C1207,1425.2 1206.1,1432.3 1200.1,1432C1194,1431.7 1184.4,1424.1 1184.4,1417C1184.4,1410 1194,1405.2 1200.1,1405.5Z" fill="#c76e55"/>
<path d="M1254.2,1313.4C1259.4,1314 1260.6,1317.6 1264.6,1328.3C1268.6,1339.1 1266.4,1338.9 1269.2,1353.7C1272,1368.4 1273.4,1368.3 1274.9,1383.6C1276.5,1399 1280.5,1400.8 1274.9,1411.3C1269.4,1421.7 1263.7,1422.8 1254.2,1422.8C1244.7,1422.8 1243.7,1420.5 1239.2,1411.3C1234.8,1402.1 1237.3,1401.7 1237.6,1388.2C1237.9,1374.7 1238.4,1374.1 1240.4,1360.6C1242.4,1347.1 1243.8,1346.8 1245,1337.5C1246.2,1328.3 1242.5,1332.5 1245,1326C1247.5,1319.6 1249,1312.7 1254.2,1313.4Z" fill="#c76e55"/>
<path d="M1254.2,1482.7C1262.5,1483.9 1267.8,1485.8 1271.5,1491.9C1275.2,1498.1 1270.8,1498.4 1268,1505.7C1265.3,1513.1 1262.4,1511 1261.1,1519.6C1259.9,1528.2 1262.2,1529.4 1263.4,1538C1264.7,1546.6 1271.3,1548.1 1265.7,1551.8C1260.2,1555.5 1248.5,1558.6 1242.7,1551.8C1236.9,1545.1 1243.8,1536.9 1243.8,1526.5C1243.8,1516 1245,1520.3 1242.7,1512.6C1240.4,1505 1235.9,1504.4 1235.3,1497.7C1234.7,1490.9 1235.4,1491.3 1240.4,1487.3C1245.4,1483.3 1245.9,1481.5 1254.2,1482.7Z" fill="#c76e55"/>
<path d="M1140.2,1551.8C1121.7,1546.9 1139.5,1540.4 1141.3,1533.4C1143.2,1526.3 1143.4,1525.9 1147.1,1525.3C1150.8,1524.7 1152.4,1526.8 1155.1,1531.1C1157.9,1535.4 1153.1,1536.8 1157.4,1541.4C1161.7,1546 1165.1,1548 1171.3,1548.4C1177.4,1548.7 1175,1546.9 1180.5,1542.6C1186,1538.3 1186.8,1535.8 1192,1532.2C1197.2,1528.7 1195.8,1527.7 1200.1,1529.2C1204.4,1530.8 1205.4,1532 1208.1,1538C1210.9,1544 1228.6,1548.1 1210.4,1551.8C1192.3,1555.5 1158.6,1556.7 1140.2,1551.8Z" fill="#c76e55"/>
<polygon points="1361.7,1303.5 1372.1,1312.2 1379,1328.3 1383.6,1346.8 1390.5,1356 1403.2,1361.7 1409,1372.1 1411.3,1388.2 1407.8,1406.7 1407.8,1420.5 1398.6,1434.3 1417,1437.1 1420.5,1425.1 1426.2,1406.7 1422.8,1392.8 1423.9,1383.6 1428.5,1365.2 1436.6,1349.1 1442.4,1334.1 1471.2,1341 1497,1347.9 1510.3,1339.9 1523.7,1336.4 1533.4,1344.5 1540.3,1353.7 1544.9,1365.2 1550.6,1369.8 1563.3,1367.5 1571.4,1360.6 1570.2,1353.7 1577.6,1341 1591,1343.3 1604.8,1344.9 1618.6,1341 1631.7,1331.1 1658.5,1338.7 1673.9,1326 1685.4,1313.4 1712.4,1322.6 1724.6,1335.2 1747.6,1343.3 1747.6,1510.3 1738.4,1509.2 1724.6,1503.4 1720,1493.1 1701.5,1492.4 1685.4,1495.4 1680.8,1502.3 1658.5,1508.5 1643.9,1503.4 1639.3,1491.9 1631.7,1476.9 1620.9,1489.6 1611.7,1497.7 1612.8,1505.7 1604.8,1510.3 1599,1521.9 1601.3,1540.3 1595.6,1551.8 1512.6,1551.8 1506.9,1533.4 1502.3,1514.9 1497.6,1502.7 1468.9,1503.4 1466.5,1526.5 1458.5,1535.7 1450.4,1551.8 1355.5,1551.8 1356.7,1533.4 1360.1,1514.9 1367,1503.4 1369.3,1490.8 1344,1480.4 1327.9,1473.5 1325.5,1471.2 1337.1,1466.6 1346.3,1450.4 1348.6,1425.1 1340.5,1397.4 1336.6,1369.8 1338.2,1346.8 1344,1319.1" fill="#c76e55" stroke="#c76e55" stroke-width="0.6" stroke-linejoin="round"/>
<path d="M1516.1,1389.4C1516.1,1385.8 1519.8,1385.8 1524.1,1386.4C1528.4,1387 1532.2,1388.1 1532.2,1391.7C1532.2,1395.3 1528.4,1400.4 1524.1,1399.8C1519.8,1399.1 1516.1,1392.9 1516.1,1389.4Z" fill="#bc4430"/>
<path d="M1550.6,1422.8C1554.9,1422.8 1556.9,1426.3 1558.7,1434.3C1560.5,1442.3 1558.2,1444.1 1557.6,1452.7C1556.9,1461.3 1558.2,1460.3 1556.4,1466.6C1554.6,1472.8 1553.8,1476.2 1550.6,1476.2C1547.4,1476.2 1546.4,1473.4 1544.4,1466.6C1542.4,1459.7 1543.5,1459 1543,1450.4C1542.5,1441.8 1540.5,1441.7 1542.6,1434.3C1544.6,1426.9 1546.3,1422.8 1550.6,1422.8Z" fill="#bc4430"/>
<path d="M1593.3,1365.7C1593.3,1364.1 1599.6,1363.4 1603.6,1363.6C1607.6,1363.8 1608.2,1364.8 1608.2,1366.3C1608.2,1367.9 1607.6,1369.5 1603.6,1369.3C1599.6,1369.2 1593.3,1367.2 1593.3,1365.7Z" fill="#bc4430"/>
<path d="M1389.4,1441.7C1390.2,1441.7 1391,1443.5 1391,1445.8C1391,1448.2 1389.5,1448 1389.4,1450.4C1389.2,1452.9 1390.5,1452.6 1390.5,1455C1390.5,1457.5 1390,1459.7 1389.4,1459.7C1388.8,1459.7 1388.4,1457.5 1388.2,1455C1388,1452.6 1388.8,1452.9 1388.7,1450.4C1388.6,1448 1387.6,1448.2 1387.8,1445.8C1387.9,1443.5 1388.5,1441.7 1389.4,1441.7Z" fill="#bc4430"/>
<rect x="1013.4" y="1000" width="725.4" height="10" fill="#fdfdfd"/>
<line x1="1013.4" y1="1005.6" x2="1738.8" y2="1005.6" stroke="#ebebeb" stroke-width="1.4"/>
<line x1="1045.7" y1="1001" x2="1045.7" y2="1010" stroke="#ebebeb" stroke-width="1.4"/>
<line x1="1126.7" y1="1001" x2="1126.7" y2="1010" stroke="#ebebeb" stroke-width="1.4"/>
<line x1="1207.6" y1="1001" x2="1207.6" y2="1010" stroke="#ebebeb" stroke-width="1.4"/>
<line x1="1288.6" y1="1001" x2="1288.6" y2="1010" stroke="#ebebeb" stroke-width="1.4"/>
<line x1="1369.5" y1="1001" x2="1369.5" y2="1010" stroke="#ebebeb" stroke-width="1.4"/>
<line x1="1450.5" y1="1001" x2="1450.5" y2="1010" stroke="#ebebeb" stroke-width="1.4"/>
<line x1="1531.4" y1="1001" x2="1531.4" y2="1010" stroke="#ebebeb" stroke-width="1.4"/>
<line x1="1612.3" y1="1001" x2="1612.3" y2="1010" stroke="#ebebeb" stroke-width="1.4"/>
<line x1="1693.3" y1="1001" x2="1693.3" y2="1010" stroke="#ebebeb" stroke-width="1.4"/>
<line x1="1774.2" y1="1001" x2="1774.2" y2="1010" stroke="#ebebeb" stroke-width="1.4"/>
<rect x="1201.2" y="1009.5" width="53.2" height="5.8" fill="#eef0f0"/>
<rect x="1605.9" y="1009.5" width="51.9" height="5.8" fill="#eef0f0"/>
<rect x="1713" y="1009.5" width="26" height="5.8" fill="#eef0f0"/>
<rect x="1092.9" y="1021.1" width="53.1" height="5.3" fill="#fff"/>
<rect x="1713" y="1032.2" width="26" height="5.7" fill="#fff"/>
<polyline points="1010.6,1115.6 1037.6,1134 1053.8,1124" fill="none" stroke="#fff" stroke-width="12" stroke-linecap="butt" stroke-linejoin="round"/>
<polyline points="1091.6,1131.2 1118.6,1134 1140.2,1111.9" fill="none" stroke="#fff" stroke-width="12" stroke-linecap="butt" stroke-linejoin="round"/>
<polyline points="1172.6,1112.1 1199.6,1131.2 1226.6,1128.2" fill="none" stroke="#fff" stroke-width="12" stroke-linecap="butt" stroke-linejoin="round"/>
<polyline points="1269.8,1115.5 1280.6,1111.6 1307.6,1113.3" fill="none" stroke="#fff" stroke-width="12" stroke-linecap="butt" stroke-linejoin="round"/>
<polyline points="1361.6,1118.6 1388.6,1155.9" fill="none" stroke="#fff" stroke-width="12" stroke-linecap="butt" stroke-linejoin="round"/>
<polyline points="1415.6,1109.8 1442.6,1102.9 1449.3,1108" fill="none" stroke="#fff" stroke-width="12" stroke-linecap="butt" stroke-linejoin="round"/>
<polyline points="1496.6,1128.9 1523.6,1109.1 1534.4,1113.1" fill="none" stroke="#fff" stroke-width="12" stroke-linecap="butt" stroke-linejoin="round"/>
<polyline points="1577.6,1120.2 1604.6,1117.9 1631.6,1123.2" fill="none" stroke="#fff" stroke-width="12" stroke-linecap="butt" stroke-linejoin="round"/>
<polyline points="1677.5,1117.5 1685.6,1111.6 1712.6,1128.9" fill="none" stroke="#fff" stroke-width="12" stroke-linecap="butt" stroke-linejoin="round"/>
<circle cx="1010.6" cy="1115.6" r="10" fill="#fff"/>
<circle cx="1037.6" cy="1134" r="10" fill="#fff"/>
<circle cx="1064.6" cy="1117.4" r="10" fill="#fff"/>
<circle cx="1091.6" cy="1131.2" r="10" fill="#fff"/>
<circle cx="1118.6" cy="1134" r="10" fill="#fff"/>
<circle cx="1145.6" cy="1106.3" r="10" fill="#fff"/>
<circle cx="1172.6" cy="1112.1" r="10" fill="#fff"/>
<circle cx="1199.6" cy="1131.2" r="10" fill="#fff"/>
<circle cx="1226.6" cy="1128.2" r="10" fill="#fff"/>
<circle cx="1253.6" cy="1121.3" r="10" fill="#fff"/>
<circle cx="1280.6" cy="1111.6" r="10" fill="#fff"/>
<circle cx="1307.6" cy="1113.3" r="10" fill="#fff"/>
<circle cx="1334.6" cy="1137" r="10" fill="#fff"/>
<circle cx="1361.6" cy="1118.6" r="10" fill="#fff"/>
<circle cx="1388.6" cy="1155.9" r="10" fill="#fff"/>
<circle cx="1415.6" cy="1109.8" r="10" fill="#fff"/>
<circle cx="1442.6" cy="1102.9" r="10" fill="#fff"/>
<circle cx="1469.6" cy="1123.2" r="10" fill="#fff"/>
<circle cx="1496.6" cy="1128.9" r="10" fill="#fff"/>
<circle cx="1523.6" cy="1109.1" r="10" fill="#fff"/>
<circle cx="1550.6" cy="1119" r="10" fill="#fff"/>
<circle cx="1577.6" cy="1120.2" r="10" fill="#fff"/>
<circle cx="1604.6" cy="1117.9" r="10" fill="#fff"/>
<circle cx="1631.6" cy="1123.2" r="10" fill="#fff"/>
<circle cx="1658.6" cy="1131" r="10" fill="#fff"/>
<circle cx="1685.6" cy="1111.6" r="10" fill="#fff"/>
<circle cx="1712.6" cy="1128.9" r="10" fill="#fff"/>
<circle cx="1739.6" cy="1125.9" r="10" fill="#fff"/>
</g>
<rect x="1013.4" y="1000" width="725.4" height="549.8" fill="none" stroke="#303030" stroke-width="2.0"/>
<line x1="1006.9" y1="1000" x2="1012.4" y2="1000" stroke="#2e2e2e" stroke-width="3.0"/>
<line x1="1006.9" y1="1012.1" x2="1012.4" y2="1012.1" stroke="#2e2e2e" stroke-width="3.0"/>
<line x1="1006.9" y1="1108.9" x2="1012.4" y2="1108.9" stroke="#2e2e2e" stroke-width="3.0"/>
<line x1="1006.9" y1="1136.7" x2="1012.4" y2="1136.7" stroke="#2e2e2e" stroke-width="3.0"/>
<line x1="1006.9" y1="1164.1" x2="1012.4" y2="1164.1" stroke="#2e2e2e" stroke-width="3.0"/>
<line x1="1006.9" y1="1274.4" x2="1012.4" y2="1274.4" stroke="#2e2e2e" stroke-width="3.0"/>
<line x1="1006.9" y1="1301.8" x2="1012.4" y2="1301.8" stroke="#2e2e2e" stroke-width="3.0"/>
<line x1="1006.9" y1="1412.7" x2="1012.4" y2="1412.7" stroke="#2e2e2e" stroke-width="3.0"/>
<line x1="1006.9" y1="1549.6" x2="1012.4" y2="1549.6" stroke="#2e2e2e" stroke-width="3.0"/>
<text transform="translate(1003.3 1003.9) scale(1.05 1)" font-size="20.6" text-anchor="end" fill="#3e3e3e">0</text>
<text transform="translate(1000.1 1145.8) scale(1.05 1)" font-size="20.6" text-anchor="end" fill="#3e3e3e">50</text>
<text transform="translate(996.2 1284.2) scale(1.05 1)" font-size="20.6" text-anchor="end" fill="#3e3e3e">100</text>
<text transform="translate(996.2 1423) scale(1.05 1)" font-size="20.6" text-anchor="end" fill="#3e3e3e">150</text>
<text transform="translate(996.2 1560.5) scale(1.05 1)" font-size="20.6" text-anchor="end" fill="#3e3e3e">200</text>
<text transform="translate(1000.1 1026.6) scale(1.02 1)" font-size="27.0" text-anchor="end" font-weight="bold" fill="#3e3e3e">SRF</text>
<text transform="translate(1003.3 1119.1) scale(1.02 1)" font-size="27.0" text-anchor="end" font-weight="bold" fill="#3e3e3e">BML</text>
<text transform="translate(1000.1 1173.5) scale(1.02 1)" font-size="27.0" text-anchor="end" font-weight="bold" fill="#3e3e3e">SOM</text>
<text transform="translate(1000.1 1311.7) scale(1.02 1)" font-size="27.0" text-anchor="end" font-weight="bold" fill="#3e3e3e">DCM</text>
<line x1="1045.2" y1="1550.8" x2="1045.2" y2="1557.3" stroke="#2e2e2e" stroke-width="3.0"/>
<text transform="translate(1045.2 1581.5) scale(1.03 1)" font-size="27.2" text-anchor="middle" fill="#3e3e3e">Oct 13</text>
<line x1="1207.1" y1="1550.8" x2="1207.1" y2="1557.3" stroke="#2e2e2e" stroke-width="3.0"/>
<text transform="translate(1207.1 1581.5) scale(1.03 1)" font-size="27.2" text-anchor="middle" fill="#3e3e3e">Oct 14</text>
<line x1="1369" y1="1550.8" x2="1369" y2="1557.3" stroke="#2e2e2e" stroke-width="3.0"/>
<text transform="translate(1369 1581.5) scale(1.03 1)" font-size="27.2" text-anchor="middle" fill="#3e3e3e">Oct 15</text>
<line x1="1530.9" y1="1550.8" x2="1530.9" y2="1557.3" stroke="#2e2e2e" stroke-width="3.0"/>
<text transform="translate(1530.9 1581.5) scale(1.03 1)" font-size="27.2" text-anchor="middle" fill="#3e3e3e">Oct 16</text>
<line x1="1692.8" y1="1550.8" x2="1692.8" y2="1557.3" stroke="#2e2e2e" stroke-width="3.0"/>
<text transform="translate(1692.8 1581.5) scale(1.03 1)" font-size="27.2" text-anchor="middle" fill="#3e3e3e">Oct 17</text>
<text x="909.5" y="1264" font-size="34" text-anchor="middle" fill="#000" transform="rotate(-90 909.5 1264)">Depth (m)</text>
<text transform="translate(1382 1615) scale(1.02 1)" font-size="37" text-anchor="middle" fill="#000">Local Time</text>
<text x="935.5" y="1678.5" font-size="26.5" fill="#000">Oxygen Saturation (%)</text>
<rect x="1219" y="1654" width="66.2" height="37.3" fill="#f2f0f0"/>
<rect x="1284.8" y="1654" width="66.2" height="37.3" fill="#dfc2b8"/>
<rect x="1350.6" y="1654" width="66.2" height="37.3" fill="#d39885"/>
<rect x="1416.5" y="1654" width="66.2" height="37.3" fill="#c76e55"/>
<rect x="1482.3" y="1654" width="66.2" height="37.3" fill="#bc4430"/>
<rect x="1548.1" y="1654" width="66.2" height="37.3" fill="#9b1f2c"/>
<rect x="1614" y="1654" width="66.2" height="37.3" fill="#6c1229"/>
<rect x="1679.8" y="1654" width="66.2" height="37.3" fill="#380e19"/>
<text x="1285" y="1714.2" font-size="16.9" text-anchor="middle" fill="#000">70</text>
<text x="1350.8" y="1714.2" font-size="16.9" text-anchor="middle" fill="#000">75</text>
<text x="1416.7" y="1714.2" font-size="16.9" text-anchor="middle" fill="#000">80</text>
<text x="1482.5" y="1714.2" font-size="16.9" text-anchor="middle" fill="#000">85</text>
<text x="1548.3" y="1714.2" font-size="16.9" text-anchor="middle" fill="#000">90</text>
<text x="1614.2" y="1714.2" font-size="16.9" text-anchor="middle" fill="#000">95</text>
<text x="1680" y="1714.2" font-size="16.9" text-anchor="middle" fill="#000">100</text>
<text x="2" y="1750.5" font-size="43" fill="#000">e</text>
<clipPath id="cpe"><rect x="140.3" y="1763.2" width="727.1" height="550.2"/></clipPath>
<g clip-path="url(#cpe)">
<rect x="140.3" y="1763.2" width="727.1" height="550.2" fill="#334596"/>
<polygon points="183.4,1785.7 193.7,1777.6 206.4,1784.6 211,1792.6 220.2,1796.1 223.7,1771.9 306.6,1771.9 305.5,1780 296.3,1784.6 294,1796.1 300.9,1805.3 294,1811.1 277.8,1823.7 275.5,1835.2 264,1842.2 247.2,1858.3 234.1,1842.2 231.8,1832.9 220.2,1822.6 190.3,1819.1 189.1,1812.2 185.7,1807.6 190.3,1796.1 183.4,1788" fill="#14213f" stroke="#14213f" stroke-width="0.6" stroke-linejoin="round"/>
<path d="M205.3,1811.7C204.7,1808.2 207,1807.8 211,1805.8C215,1803.7 215.6,1802.9 220.2,1804.1C224.9,1805.4 227.7,1806.9 228.3,1810.4C228.9,1813.9 226.5,1814.9 222.5,1817.3C218.6,1819.6 217.9,1820.6 213.3,1819.1C208.7,1817.6 205.9,1815.3 205.3,1811.7Z" fill="#334596"/>
<polygon points="191.4,1845.6 194.4,1842.2 197.7,1846.3" fill="#14213f" stroke="#14213f" stroke-width="0.6" stroke-linejoin="round"/>
<polygon points="338.9,1771.9 339.6,1780 343.5,1796.1 365.4,1804.1 382.7,1803.5 372.3,1809.9 376.9,1814.5 372.3,1819.1 382.7,1823.7 372.3,1829.5 370,1832.9 386.1,1844.5 395.3,1858.3 409.6,1866.3 420.7,1862.9 427.6,1856 428.7,1842.2 436.8,1832.9 446,1821.4 451.8,1805.3 462.2,1799.5 480.6,1794.9 501.3,1795.6 504,1803 507.5,1809.9 504,1821.4 504,1837.5 517.8,1846.8 545.5,1838.7 568.5,1849.1 569.7,1858.3 582.3,1857.1 596.2,1846.8 607.7,1832.9 621.5,1823.7 629.6,1815.7 625,1811.1 642.2,1808.1 653.8,1809.9 669.9,1819.1 683.7,1822.6 686,1830.6 695.2,1844.5 711.3,1851.4 722.9,1862.9 733.2,1872.1 741.3,1860.6 757.4,1849.1 787.4,1846.8 790.8,1835.2 798.9,1819.1 803.5,1806.4 812.7,1796.1 826.5,1799.5 838.1,1812.2 835.8,1823.7 856.5,1835.2 865.7,1846.8 881.8,1846.8 881.8,1771.9" fill="#14213f" stroke="#14213f" stroke-width="0.6" stroke-linejoin="round"/>
<polygon points="849.6,1858.3 858.8,1852.5 881.8,1851.4 881.8,1871 865.7,1869.8 856.5,1865.2" fill="#14213f" stroke="#14213f" stroke-width="0.6" stroke-linejoin="round"/>
<path d="M479.4,1788C479.4,1786.5 484,1784.6 487,1784.6C490,1784.6 494.4,1786.5 494.4,1788C494.4,1789.5 490,1791.9 487,1791.9C484,1791.9 479.4,1789.5 479.4,1788Z" fill="#334596"/>
<path d="M621.5,1793.8C621.3,1792.4 624.5,1790.3 627.3,1790.3C630,1790.3 635.1,1792.4 635.3,1793.8C635.6,1795.2 631.2,1797.2 628.4,1797.2C625.6,1797.2 621.7,1795.2 621.5,1793.8Z" fill="#334596"/>
<path d="M830,1790.3C829.5,1788.9 834.1,1786.9 838.1,1786.9C842,1786.9 849.1,1788.9 849.6,1790.3C850,1791.7 844.3,1793.8 840.4,1793.8C836.5,1793.8 830.5,1791.7 830,1790.3Z" fill="#334596"/>
<polygon points="516,1861.7 518.3,1861.7 517.4,1867.5" fill="#14213f" stroke="#14213f" stroke-width="0.6" stroke-linejoin="round"/>
<polygon points="109.1,1897.4 139.1,1897.4 166.1,1909 193.1,1904.8 220.1,1912.4 247.1,1920.9 274.1,1904.4 301.1,1898.6 328.1,1906.7 355.1,1911.3 382.1,1909 409.1,1911.3 436.1,1904.4 463.1,1906.7 490.1,1898.6 517.1,1940.1 524.4,1911.3 526.3,1890.5 544.1,1885.9 571.1,1892.8 598.1,1903.2 625.1,1903.2 652.1,1888.2 679.1,1898.6 706.1,1902.1 733.1,1906.7 760.1,1903.2 787.1,1906.7 814.1,1887.8 841.1,1906.7 868.1,1913.6 898.1,1913.6 907.4,2318.4 100.3,2318.4" fill="#3e7ba8"/>
<polygon points="109.1,1925.1 139.1,1925.1 166.1,1934.3 193.1,1937.8 220.1,1950.4 247.1,1951.6 274.1,1941.2 301.1,1932 328.1,1950.4 355.1,1953.9 382.1,1947 409.1,1954.6 436.1,1944.7 463.1,1945.8 490.1,1937.8 517.1,1985 544.1,1945.8 571.1,1926.2 598.1,1948.1 625.1,1942.4 652.1,1934.3 679.1,1948.1 706.1,1947 733.1,1942.4 760.1,1938.9 787.1,1949.3 814.1,1932 841.1,1950.4 868.1,1958.5 898.1,1958.5 907.4,2318.4 100.3,2318.4" fill="#5ba7ae"/>
<polygon points="109.1,1950.4 139.1,1950.4 166.1,1968.9 193.1,1965.4 220.1,1974.6 247.1,1979.2 274.1,1972.3 301.1,1965.4 328.1,1976.9 355.1,1986.8 382.1,1973.5 409.1,1986.1 436.1,1966.1 463.1,1980.4 490.1,1975.8 517.1,2018.4 544.1,1985 563,1957.3 571.1,1953.9 579.2,1962 598.1,1989.6 625.1,1981.5 652.1,1962 679.1,1986.1 706.1,1981.5 733.1,1976.9 760.1,1962 787.1,1973.5 814.1,1959.7 841.1,1987.3 868.1,2000 898.1,2000 907.4,2318.4 100.3,2318.4" fill="#93cdbd"/>
<polygon points="109.1,1980.5 139.1,1980.5 166.1,1987.4 193.1,1990.8 220.1,1994.3 247.1,1992 274.1,1989.7 301.1,1987.4 328.1,1989.7 355.1,2000 382.1,1993.1 409.1,2003.5 436.1,1996.6 463.1,2001.2 490.1,2000 517.1,2033.5 544.1,2001.2 571.1,1971.2 598.1,2011.6 625.1,2008.1 652.1,1993.1 679.1,2003.5 706.1,1995.4 733.1,2010.4 760.1,1989.7 787.1,1994.3 814.1,1977 841.1,2001.2 868.1,2012.7 898.1,2012.7 907.4,2318.4 100.3,2318.4" fill="#d9ebdc"/>
<polygon points="109.1,1989.2 139.1,1989.2 166.1,1997.3 193.1,2001.9 220.1,2007.2 247.1,2000.7 274.1,2005.3 301.1,1994.3 328.1,1999.6 355.1,2012.3 382.1,2008.1 409.1,2022.6 436.1,2012.3 463.1,2011.1 490.1,2007.6 517.1,2042.7 544.1,2012.7 571.1,1980.5 598.1,2021.5 625.1,2017.3 652.1,2005.3 679.1,2012.3 706.1,2007 733.1,2023.1 760.1,2008.1 787.1,2012.7 814.1,1995.4 841.1,2014.6 868.1,2028.8 898.1,2028.8 907.4,2318.4 100.3,2318.4" fill="#e9e79c"/>
<polygon points="109.1,2004.2 139.1,2004.2 166.1,2003 193.1,2010 220.1,2018 247.1,2012.3 274.1,2016.9 301.1,2007.6 328.1,2010 355.1,2021.5 382.1,2018 409.1,2031.8 436.1,2019.2 463.1,2018 490.1,2014.6 517.1,2050.3 544.1,2020.3 571.1,1988.1 598.1,2029.5 625.1,2024.9 652.1,2016.9 679.1,2021.5 706.1,2013.9 733.1,2033 760.1,2018 787.1,2021.5 814.1,2004.7 841.1,2024.2 868.1,2037.6 898.1,2037.6 907.4,2318.4 100.3,2318.4" fill="#bcbc45"/>
<polygon points="109.1,2012.3 139.1,2012.3 166.1,2008.8 193.1,2018 220.1,2027.2 247.1,2020.3 274.1,2041.1 301.1,2016.9 328.1,2018 355.1,2029.5 382.1,2026.1 409.1,2039.9 436.1,2027.2 463.1,2024.9 490.1,2022.6 517.1,2058.3 544.1,2037.6 559,2021.5 571.1,1999.6 583.2,2026.1 598.1,2039.9 625.1,2033.5 652.1,2021.5 679.1,2034.8 706.1,2021 733.1,2045.7 760.1,2028.4 787.1,2029.5 814.1,2014.6 841.1,2033.5 868.1,2051.4 898.1,2051.4 907.4,2318.4 100.3,2318.4" fill="#7ba545"/>
<polygon points="109.1,2053.7 139.1,2053.7 166.1,2058.3 180.9,2072.2 193.1,2083.7 220.1,2086 247.1,2089.4 274.1,2088.3 301.1,2076.8 328.1,2073.3 355.1,2083.7 382.1,2065.2 409.1,2058.3 436.1,2082.5 463.1,2071 490.1,2071 517.1,2076.8 544.1,2102.1 571.1,2058.3 584.6,2072.2 598.1,2086 625.1,2099.8 652.1,2081.4 679.1,2087.1 706.1,2079.1 733.1,2095.2 760.1,2097.5 787.1,2101 814.1,2076.8 841.1,2069.9 868.1,2095.2 898.1,2095.2 907.4,2318.4 100.3,2318.4" fill="#bcbc45"/>
<polygon points="109.1,2068.7 139.1,2068.7 166.1,2072.2 193.1,2091.7 220.1,2094 247.1,2109 274.1,2099.8 301.1,2087.1 328.1,2081.4 355.1,2094 382.1,2074.5 409.1,2071 436.1,2092.9 463.1,2081.4 490.1,2081.4 517.1,2106.7 544.1,2115.9 571.1,2074.5 598.1,2099.8 625.1,2117.1 652.1,2099.8 679.1,2101 706.1,2090.6 733.1,2109 760.1,2115.9 787.1,2119.4 814.1,2094 841.1,2086 868.1,2111.3 898.1,2111.3 907.4,2318.4 100.3,2318.4" fill="#e9e79c"/>
<polygon points="109.1,2082.5 139.1,2082.5 166.1,2083.7 193.1,2098.6 220.1,2104.4 247.1,2118.2 274.1,2113.6 301.1,2097.5 328.1,2088.3 355.1,2101 382.1,2084.8 409.1,2089.4 436.1,2105.6 463.1,2089.4 490.1,2089.4 517.1,2124 544.1,2133.9 571.1,2094 598.1,2118.2 625.1,2129.8 652.1,2119.4 679.1,2132.1 706.1,2102.1 733.1,2124 760.1,2132.1 787.1,2132.1 814.1,2115.9 841.1,2104.4 868.1,2118.2 898.1,2118.2 907.4,2318.4 100.3,2318.4" fill="#d9ebdc"/>
<polygon points="109.1,2097.5 139.1,2097.5 166.1,2098.6 193.1,2109 220.1,2119.4 247.1,2136.7 274.1,2124 301.1,2105.6 328.1,2095.2 355.1,2113.6 382.1,2098.6 409.1,2109 436.1,2120.5 463.1,2096.3 490.1,2102.1 517.1,2149.3 544.1,2156.2 571.1,2107.9 598.1,2133.2 625.1,2142.4 652.1,2137.8 679.1,2143.6 706.1,2114.8 733.1,2144.7 760.1,2147 787.1,2144.7 814.1,2127.4 841.1,2118.2 868.1,2136.7 898.1,2136.7 907.4,2318.4 100.3,2318.4" fill="#93cdbd"/>
<polygon points="109.1,2107.9 139.1,2107.9 166.1,2110.2 193.1,2120.5 220.1,2132.1 247.1,2147 274.1,2136.7 301.1,2109 328.1,2113.6 355.1,2126.3 382.1,2120.5 409.1,2141.3 436.1,2129.8 463.1,2115.9 490.1,2120.5 517.1,2164.3 544.1,2165.5 571.1,2125.1 598.1,2148.2 625.1,2155.1 652.1,2155.1 679.1,2168.9 706.1,2132.1 733.1,2155.1 760.1,2157.4 787.1,2164.3 814.1,2141.3 841.1,2126.3 868.1,2153.9 898.1,2153.9 907.4,2318.4 100.3,2318.4" fill="#5ba7ae"/>
<polygon points="109.1,2132.1 139.1,2132.1 166.1,2127.4 193.1,2139 220.1,2162 247.1,2175.4 274.1,2162 301.1,2134.4 328.1,2132.1 355.1,2140.1 382.1,2141.3 409.1,2150.5 436.1,2150.5 463.1,2135.5 490.1,2148.2 517.1,2194.3 544.1,2200 571.1,2149.3 598.1,2164.3 625.1,2173.5 652.1,2180.4 679.1,2185 706.1,2150 733.1,2182.7 760.1,2180.4 787.1,2186.2 814.1,2162 841.1,2145.9 868.1,2166.6 898.1,2166.6 907.4,2318.4 100.3,2318.4" fill="#3e7ba8"/>
<polygon points="109.1,2168.9 139.1,2168.9 166.1,2178.1 193.1,2170.1 220.1,2204.6 247.1,2188.5 274.1,2193.1 301.1,2165.5 328.1,2158.6 355.1,2164.3 382.1,2181.6 409.1,2159.7 436.1,2171.2 463.1,2157.4 490.1,2178.1 517.1,2219.6 544.1,2224.2 571.1,2173.1 598.1,2196.6 625.1,2203.5 652.1,2209.2 679.1,2210.4 706.1,2174.7 733.1,2204.6 760.1,2205.8 787.1,2209.2 814.1,2190.8 841.1,2183.9 868.1,2201.2 898.1,2201.2 907.4,2318.4 100.3,2318.4" fill="#334596"/>
<polygon points="109.1,2198.9 139.1,2198.9 166.1,2221.9 179.6,2212.7 193.1,2201.2 201.2,2224.2 220.1,2254.2 233.6,2238 247.1,2220.8 274.1,2224.2 301.1,2217.3 328.1,2204.6 355.1,2188.5 382.1,2196.6 409.1,2196.6 429.4,2203.5 436.1,2220.8 441.5,2206.9 463.1,2175.8 476.6,2194.3 490.1,2219.6 517.1,2255.3 544.1,2249.6 561.6,2231.1 571.1,2212.7 598.1,2234.6 625.1,2235.7 652.1,2249.6 679.1,2261.8 688.6,2244.9 706.1,2223.1 733.1,2236.9 760.1,2226.5 787.1,2233.4 814.1,2221.9 841.1,2230 868.1,2234.6 898.1,2234.6 907.4,2318.4 100.3,2318.4" fill="#14213f"/>
<path d="M153.4,2039.9C154.1,2037 156.1,2029.4 158,2026.1C159.9,2022.8 160.7,2017.5 166.1,2018C171.5,2018.5 185.6,2026.3 193.7,2029.5C201.9,2032.8 212.2,2039.1 220.2,2039.9C228.3,2040.7 242.2,2034 247.2,2034.8C252.2,2035.7 251.6,2042 253.6,2045.7C255.7,2049.4 260.7,2056.4 260.6,2059.5C260.4,2062.6 254.5,2065.5 252.5,2066.4C250.5,2067.3 252,2066.6 247.2,2065.2C242.4,2063.9 226.4,2056.7 220.2,2057.2C214.1,2057.7 210.4,2066.3 206.4,2068.7C202.4,2071 197.9,2073.4 193.7,2072.8C189.6,2072.3 182.4,2068.8 178.8,2065.2C175.1,2061.7 173.4,2052.1 169.6,2049.1C165.8,2046.2 155.9,2047 153.4,2045.7C151,2044.3 152.7,2042.8 153.4,2039.9Z" fill="#38873f"/>
<path d="M290.5,2030.7C292,2026.8 295.6,2023.9 301.3,2023.1C307,2022.2 323.9,2023.4 328.5,2024.9C333.1,2026.4 331.3,2030.1 332,2033C332.7,2035.9 329.6,2042.2 333.1,2044.5C336.7,2046.8 348.1,2048.1 355.5,2048.4C362.9,2048.8 378.4,2046.7 382.7,2046.8C386.9,2046.9 387.9,2046.6 383.8,2049.1C379.7,2051.6 363.8,2061.8 355.5,2063.4C347.2,2065 336.6,2059.6 328.5,2059.5C320.4,2059.4 307,2062.9 301.3,2062.9C295.6,2062.9 292,2061.6 290.5,2059.5C289.1,2057.4 291.7,2053.4 291.7,2049.1C291.7,2044.8 289.1,2034.6 290.5,2030.7Z" fill="#38873f"/>
<path d="M299,2031.8C299.2,2030.7 303,2029.9 304.3,2030.2C305.7,2030.6 308.4,2033 308.3,2034.1C308.1,2035.2 304.6,2037.9 303.2,2037.6C301.8,2037.3 298.9,2032.9 299,2031.8Z" fill="#235a31"/>
<path d="M420.7,2042.2C422.8,2037.5 430.4,2028.4 436.8,2027.2C443.2,2026 455.3,2033.3 463.3,2034.1C471.4,2034.9 486.2,2031.3 490.5,2032.5C494.8,2033.7 496.2,2039.7 492.1,2042.2C488,2044.7 470.2,2047 463.3,2049.1C456.4,2051.2 450,2052.6 446,2056C442,2059.5 440.3,2071.8 436.8,2072.2C433.4,2072.5 425.4,2062.8 423,2058.3C420.6,2053.8 418.6,2046.9 420.7,2042.2Z" fill="#38873f"/>
<path d="M432.2,2039.9C432.7,2038 434.6,2033.8 436.8,2034.1C439.1,2034.5 446.1,2039.8 447.2,2042.2C448.2,2044.6 445.3,2047.8 443.7,2050.3C442.2,2052.7 438.4,2058.9 436.8,2058.3C435.3,2057.8 434,2049.6 433.4,2046.8C432.7,2044 431.7,2041.8 432.2,2039.9Z" fill="#235a31"/>
<path d="M524.7,2061.8C524.4,2058.3 528.7,2054 531.6,2051.4C534.6,2048.8 540.3,2044.9 544.3,2044.5C548.3,2044.2 555.5,2046.9 558.1,2049.1C560.7,2051.4 562.3,2055.3 561.6,2059.5C560.9,2063.6 556.1,2072.7 553.5,2076.8C550.9,2080.8 547.3,2086.8 544.3,2086.4C541.4,2086.1 536.9,2078.2 534,2074.5C531,2070.8 525.1,2065.2 524.7,2061.8Z" fill="#38873f"/>
<path d="M537.4,2058.3C538,2056.1 542.1,2050.3 544.3,2050.3C546.6,2050.3 551.9,2055.9 552.4,2058.3C552.9,2060.8 549,2064.4 547.8,2066.4C546.6,2068.4 545.4,2071.9 544.3,2071.7C543.2,2071.5 541.4,2067.2 540.4,2065.2C539.4,2063.2 536.8,2060.6 537.4,2058.3Z" fill="#235a31"/>
<path d="M571.5,2016.9C572.6,2016.9 575.4,2020.8 575.4,2022.6C575.4,2024.4 572.6,2028.8 571.5,2028.8C570.4,2028.8 568,2024.4 568,2022.6C568,2020.8 570.4,2016.9 571.5,2016.9Z" fill="#38873f"/>
<path d="M589.2,2060.6C590.1,2058.3 590.7,2053.4 596.2,2051.9C601.6,2050.3 618.5,2051.7 625.4,2050.3C632.3,2048.8 639.2,2045.3 642.2,2042.2C645.3,2039.1 644.2,2032 645.7,2029.5C647.2,2027.1 649.5,2025.9 652.1,2026.1C654.7,2026.3 661,2028.6 663,2030.7C664.9,2032.8 662.9,2038.2 665.3,2039.9C667.7,2041.6 674.6,2043.4 679.1,2042.2C683.6,2041 691.1,2033.9 695.2,2031.8C699.3,2029.8 703.5,2027.9 706.3,2028.4C709,2028.9 711.5,2032.5 713.7,2035.3C715.8,2038.1 717.6,2044.4 720.6,2046.8C723.5,2049.2 729.4,2051.8 733.2,2051.4C737,2051.1 741.9,2047.3 745.9,2044.5C750,2041.7 754.1,2034.2 760.2,2032.5C766.3,2030.9 778.6,2033.3 786.7,2033.5C794.7,2033.6 808.9,2032.1 813.9,2033.5C818.8,2034.8 819.1,2039.5 819.6,2042.2C820.2,2044.9 820.1,2047.6 817.3,2051.4C814.6,2055.2 805.8,2063.4 801.2,2067.5C796.6,2071.7 792.8,2077 786.7,2079.1C780.5,2081.1 767.3,2081 760.2,2081.4C753,2081.7 742.2,2080.5 739,2081.4C735.8,2082.2 739.9,2085.9 739,2087.1C738.1,2088.3 734.4,2090.6 733.2,2089.4C732,2088.2 732.8,2081.7 730.9,2079.1C729,2076.5 724.3,2073.7 720.6,2072.2C716.9,2070.6 712.5,2069.4 706.3,2068.7C700.1,2068 687.2,2068.6 679.1,2067.5C671,2066.5 658.7,2061.1 652.1,2061.8C645.6,2062.5 639.3,2068.7 635.3,2072.2C631.3,2075.6 628.2,2084.1 625.4,2084.8C622.6,2085.5 620.9,2078.5 616.9,2076.8C612.8,2075 602.4,2074.7 598.5,2073.3C594.5,2071.9 591.8,2069.4 590.4,2067.5C589,2065.6 588.4,2063 589.2,2060.6Z" fill="#38873f"/>
<path d="M745.9,2057.2C746.1,2054.8 749.5,2049.3 751.7,2046.8C753.8,2044.3 754.9,2041.6 760.2,2040.4C765.4,2039.2 781.1,2038 786.7,2038.7C792.3,2039.5 795.5,2043.4 797.7,2045.7C800,2047.9 801.8,2051.1 801.7,2053.7C801.5,2056.3 798.8,2060.9 796.6,2062.9C794.3,2065 792.1,2066.9 786.7,2067.5C781.2,2068.2 765.6,2067.8 760.2,2067.1C754.8,2066.4 752.7,2064.4 750.5,2062.9C748.4,2061.5 745.7,2059.6 745.9,2057.2Z" fill="#235a31"/>
<path d="M778.2,2056C778.6,2054.6 785,2052.1 786.7,2052.6C788.4,2053.1 790.1,2058.1 789.7,2059.5C789.3,2060.9 785.6,2062.3 783.9,2061.8C782.2,2061.3 777.7,2057.4 778.2,2056Z" fill="#18261a"/>
<path d="M619.2,2066.4C619.4,2065.7 623.9,2064 625.4,2064.1C627,2064.2 629.8,2066.4 629.6,2067.1C629.3,2067.8 625.4,2068.8 623.8,2068.7C622.2,2068.6 619,2067.1 619.2,2066.4Z" fill="#235a31"/>
<path d="M859.9,2072.2C860.9,2069 864.3,2064.3 867.6,2062.9C870.8,2061.6 879.7,2058.8 881.8,2062.9C884,2067.1 884,2086.4 881.8,2090.6C879.7,2094.7 870.7,2091.6 867.6,2090.6C864.4,2089.5 862.2,2086.4 861.1,2083.7C860,2080.9 859,2075.3 859.9,2072.2Z" fill="#38873f"/>
<rect x="140.3" y="1763.2" width="727.1" height="10.5" fill="#fdfdfd"/>
<line x1="140.3" y1="1770" x2="867.4" y2="1770" stroke="#e6e9ee" stroke-width="1.4"/>
<line x1="173.2" y1="1765" x2="173.2" y2="1773.7" stroke="#ebebeb" stroke-width="1.4"/>
<line x1="254.1" y1="1765" x2="254.1" y2="1773.7" stroke="#ebebeb" stroke-width="1.4"/>
<line x1="335" y1="1765" x2="335" y2="1773.7" stroke="#ebebeb" stroke-width="1.4"/>
<line x1="415.9" y1="1765" x2="415.9" y2="1773.7" stroke="#ebebeb" stroke-width="1.4"/>
<line x1="496.8" y1="1765" x2="496.8" y2="1773.7" stroke="#ebebeb" stroke-width="1.4"/>
<line x1="577.7" y1="1765" x2="577.7" y2="1773.7" stroke="#ebebeb" stroke-width="1.4"/>
<line x1="658.6" y1="1765" x2="658.6" y2="1773.7" stroke="#ebebeb" stroke-width="1.4"/>
<line x1="739.5" y1="1765" x2="739.5" y2="1773.7" stroke="#ebebeb" stroke-width="1.4"/>
<line x1="820.4" y1="1765" x2="820.4" y2="1773.7" stroke="#ebebeb" stroke-width="1.4"/>
<line x1="901.3" y1="1765" x2="901.3" y2="1773.7" stroke="#ebebeb" stroke-width="1.4"/>
<rect x="328.5" y="1773.2" width="54.2" height="6.3" fill="#eef0f0"/>
<rect x="733.2" y="1773.2" width="53" height="6.3" fill="#eef0f0"/>
<rect x="842.2" y="1773.2" width="25.8" height="6.3" fill="#eef0f0"/>
<rect x="221.4" y="1785" width="52.5" height="5.3" fill="#fff"/>
<rect x="842.2" y="1796" width="25.8" height="5.8" fill="#fff"/>
<polyline points="139.1,1879 166.1,1898.6 182.3,1888.2" fill="none" stroke="#fff" stroke-width="12" stroke-linecap="butt" stroke-linejoin="round"/>
<polyline points="220.1,1895.6 247.1,1898.6 268.7,1876.1" fill="none" stroke="#fff" stroke-width="12" stroke-linecap="butt" stroke-linejoin="round"/>
<polyline points="301.1,1876.3 328.1,1895.6 355.1,1892.8" fill="none" stroke="#fff" stroke-width="12" stroke-linecap="butt" stroke-linejoin="round"/>
<polyline points="398.3,1879.9 409.1,1876.3 436.1,1877.9 441.5,1882.5" fill="none" stroke="#fff" stroke-width="12" stroke-linecap="butt" stroke-linejoin="round"/>
<polyline points="490.1,1882.9 517.1,1920.5" fill="none" stroke="#fff" stroke-width="12" stroke-linecap="butt" stroke-linejoin="round"/>
<polyline points="538.7,1883.6 544.1,1874.4 571.1,1867.5 577.9,1872.4" fill="none" stroke="#fff" stroke-width="12" stroke-linecap="butt" stroke-linejoin="round"/>
<polyline points="625.1,1893.3 652.1,1873.3 662.9,1877.1" fill="none" stroke="#fff" stroke-width="12" stroke-linecap="butt" stroke-linejoin="round"/>
<polyline points="706.1,1884.1 733.1,1882.5 760.1,1887.5" fill="none" stroke="#fff" stroke-width="12" stroke-linecap="butt" stroke-linejoin="round"/>
<polyline points="806,1881.8 814.1,1876 841.1,1893.3" fill="none" stroke="#fff" stroke-width="12" stroke-linecap="butt" stroke-linejoin="round"/>
<circle cx="139.1" cy="1879" r="10" fill="#fff"/>
<circle cx="166.1" cy="1898.6" r="10" fill="#fff"/>
<circle cx="193.1" cy="1881.3" r="10" fill="#fff"/>
<circle cx="220.1" cy="1895.6" r="10" fill="#fff"/>
<circle cx="247.1" cy="1898.6" r="10" fill="#fff"/>
<circle cx="274.1" cy="1870.5" r="10" fill="#fff"/>
<circle cx="301.1" cy="1876.3" r="10" fill="#fff"/>
<circle cx="328.1" cy="1895.6" r="10" fill="#fff"/>
<circle cx="355.1" cy="1892.8" r="10" fill="#fff"/>
<circle cx="382.1" cy="1885.5" r="10" fill="#fff"/>
<circle cx="409.1" cy="1876.3" r="10" fill="#fff"/>
<circle cx="436.1" cy="1877.9" r="10" fill="#fff"/>
<circle cx="463.1" cy="1900.9" r="10" fill="#fff"/>
<circle cx="490.1" cy="1882.9" r="10" fill="#fff"/>
<circle cx="517.1" cy="1920.5" r="10" fill="#fff"/>
<circle cx="544.1" cy="1874.4" r="10" fill="#fff"/>
<circle cx="571.1" cy="1867.5" r="10" fill="#fff"/>
<circle cx="598.1" cy="1887.1" r="10" fill="#fff"/>
<circle cx="625.1" cy="1893.3" r="10" fill="#fff"/>
<circle cx="652.1" cy="1873.3" r="10" fill="#fff"/>
<circle cx="679.1" cy="1882.9" r="10" fill="#fff"/>
<circle cx="706.1" cy="1884.1" r="10" fill="#fff"/>
<circle cx="733.1" cy="1882.5" r="10" fill="#fff"/>
<circle cx="760.1" cy="1887.5" r="10" fill="#fff"/>
<circle cx="787.1" cy="1895.1" r="10" fill="#fff"/>
<circle cx="814.1" cy="1876" r="10" fill="#fff"/>
<circle cx="841.1" cy="1893.3" r="10" fill="#fff"/>
<circle cx="868.1" cy="1889.4" r="10" fill="#fff"/>
</g>
<rect x="140.3" y="1763.2" width="727.1" height="550.2" fill="none" stroke="#2b2b2b" stroke-width="4.4"/>
<line x1="133.6" y1="1763.3" x2="138.1" y2="1763.3" stroke="#2e2e2e" stroke-width="3.6"/>
<line x1="133.6" y1="1776.4" x2="138.1" y2="1776.4" stroke="#2e2e2e" stroke-width="3.6"/>
<line x1="133.6" y1="1873.3" x2="138.1" y2="1873.3" stroke="#2e2e2e" stroke-width="3.6"/>
<line x1="133.6" y1="1901.1" x2="138.1" y2="1901.1" stroke="#2e2e2e" stroke-width="3.6"/>
<line x1="133.6" y1="1928.5" x2="138.1" y2="1928.5" stroke="#2e2e2e" stroke-width="3.6"/>
<line x1="133.6" y1="2038.6" x2="138.1" y2="2038.6" stroke="#2e2e2e" stroke-width="3.6"/>
<line x1="133.6" y1="2066.2" x2="138.1" y2="2066.2" stroke="#2e2e2e" stroke-width="3.6"/>
<line x1="133.6" y1="2175.9" x2="138.1" y2="2175.9" stroke="#2e2e2e" stroke-width="3.6"/>
<line x1="133.6" y1="2313.2" x2="138.1" y2="2313.2" stroke="#2e2e2e" stroke-width="3.6"/>
<text transform="translate(133.3 1767.4) scale(1.05 1)" font-size="20.6" text-anchor="end" fill="#3e3e3e">0</text>
<text transform="translate(128.6 1910.5) scale(1.05 1)" font-size="20.6" text-anchor="end" fill="#3e3e3e">50</text>
<text transform="translate(124.6 2048) scale(1.05 1)" font-size="20.6" text-anchor="end" fill="#3e3e3e">100</text>
<text transform="translate(124.6 2187.3) scale(1.05 1)" font-size="20.6" text-anchor="end" fill="#3e3e3e">150</text>
<text transform="translate(124.6 2324.6) scale(1.05 1)" font-size="20.6" text-anchor="end" fill="#3e3e3e">200</text>
<text transform="translate(127.8 1791.3) scale(1.02 1)" font-size="27.0" text-anchor="end" font-weight="bold" fill="#3e3e3e">SRF</text>
<text transform="translate(131.7 1883.1) scale(1.02 1)" font-size="27.0" text-anchor="end" font-weight="bold" fill="#3e3e3e">BML</text>
<text transform="translate(127.8 1937.9) scale(1.02 1)" font-size="27.0" text-anchor="end" font-weight="bold" fill="#3e3e3e">SOM</text>
<text transform="translate(127.8 2075.6) scale(1.02 1)" font-size="27.0" text-anchor="end" font-weight="bold" fill="#3e3e3e">DCM</text>
<line x1="173.2" y1="2315.6" x2="173.2" y2="2321.1" stroke="#2e2e2e" stroke-width="3.6"/>
<text transform="translate(173.2 2345) scale(1.03 1)" font-size="27.2" text-anchor="middle" fill="#3e3e3e">Oct 13</text>
<line x1="335" y1="2315.6" x2="335" y2="2321.1" stroke="#2e2e2e" stroke-width="3.6"/>
<text transform="translate(335 2345) scale(1.03 1)" font-size="27.2" text-anchor="middle" fill="#3e3e3e">Oct 14</text>
<line x1="496.8" y1="2315.6" x2="496.8" y2="2321.1" stroke="#2e2e2e" stroke-width="3.6"/>
<text transform="translate(496.8 2345) scale(1.03 1)" font-size="27.2" text-anchor="middle" fill="#3e3e3e">Oct 15</text>
<line x1="658.6" y1="2315.6" x2="658.6" y2="2321.1" stroke="#2e2e2e" stroke-width="3.6"/>
<text transform="translate(658.6 2345) scale(1.03 1)" font-size="27.2" text-anchor="middle" fill="#3e3e3e">Oct 16</text>
<line x1="820.4" y1="2315.6" x2="820.4" y2="2321.1" stroke="#2e2e2e" stroke-width="3.6"/>
<text transform="translate(820.4 2345) scale(1.03 1)" font-size="27.2" text-anchor="middle" fill="#3e3e3e">Oct 17</text>
<text x="40" y="2026" font-size="34" text-anchor="middle" fill="#000" transform="rotate(-90 40 2026)">Depth (m)</text>
<text transform="translate(515 2382) scale(1.02 1)" font-size="37" text-anchor="middle" fill="#000">Local Time</text>
<text x="134" y="2439.5" font-size="26" fill="#000">Chlorophyll</text>
<text x="134" y="2463.3" font-size="26" fill="#000">Fluorescence</text>
<text x="134" y="2487.1" font-size="26" fill="#000">[mg/m^3]</text>
<rect x="311" y="2426.8" width="44.3" height="37.3" fill="#14213f"/>
<rect x="354.9" y="2426.8" width="44.3" height="37.3" fill="#334596"/>
<rect x="398.9" y="2426.8" width="44.3" height="37.3" fill="#3e7ba8"/>
<rect x="442.8" y="2426.8" width="44.3" height="37.3" fill="#5ba7ae"/>
<rect x="486.7" y="2426.8" width="44.3" height="37.3" fill="#93cdbd"/>
<rect x="530.7" y="2426.8" width="44.3" height="37.3" fill="#d9ebdc"/>
<rect x="574.6" y="2426.8" width="44.3" height="37.3" fill="#e9e79c"/>
<rect x="618.5" y="2426.8" width="44.3" height="37.3" fill="#bcbc45"/>
<rect x="662.5" y="2426.8" width="44.3" height="37.3" fill="#7ba545"/>
<rect x="706.4" y="2426.8" width="44.3" height="37.3" fill="#38873f"/>
<rect x="750.3" y="2426.8" width="44.3" height="37.3" fill="#235a31"/>
<rect x="794.3" y="2426.8" width="44.3" height="37.3" fill="#18261a"/>
<text x="355.1" y="2487" font-size="16.9" text-anchor="middle" fill="#000">0.05</text>
<text x="399.1" y="2487" font-size="16.9" text-anchor="middle" fill="#000">0.10</text>
<text x="443" y="2487" font-size="16.9" text-anchor="middle" fill="#000">0.15</text>
<text x="486.9" y="2487" font-size="16.9" text-anchor="middle" fill="#000">0.20</text>
<text x="530.9" y="2487" font-size="16.9" text-anchor="middle" fill="#000">0.25</text>
<text x="574.8" y="2487" font-size="16.9" text-anchor="middle" fill="#000">0.30</text>
<text x="618.7" y="2487" font-size="16.9" text-anchor="middle" fill="#000">0.35</text>
<text x="662.7" y="2487" font-size="16.9" text-anchor="middle" fill="#000">0.40</text>
<text x="706.6" y="2487" font-size="16.9" text-anchor="middle" fill="#000">0.45</text>
<text x="750.5" y="2487" font-size="16.9" text-anchor="middle" fill="#000">0.50</text>
<text x="794.5" y="2487" font-size="16.9" text-anchor="middle" fill="#000">0.55</text>
<text x="888" y="1750.5" font-size="43" fill="#000">f</text>
<clipPath id="cpf"><rect x="1013.4" y="1763.5" width="725.4" height="549.7"/></clipPath>
<g clip-path="url(#cpf)">
<rect x="1013.4" y="1763.5" width="725.4" height="549.7" fill="#7a533b"/>
<polygon points="1005.4,1771.9 1050.3,1771.9 1046.9,1784.6 1048,1796.1 1054.9,1807.6 1059.5,1821.4 1071.1,1829.5 1065.3,1839.9 1058.4,1844.5 1054.9,1865.2 1056.1,1879 1065.3,1892.8 1079.1,1899.8 1090.6,1911.3 1088.3,1928.6 1079.1,1932 1065.3,1936.6 1061.8,1947 1051.5,1955 1037.6,1960.8 1023.8,1963.1 1014.6,1967.7 1005.4,1968.9" fill="#5d4034" stroke="#5d4034" stroke-width="0.6" stroke-linejoin="round"/>
<polygon points="1112.5,1771.9 1189.7,1771.9 1182.8,1786.9 1194.3,1796.1 1208.1,1805.3 1215,1819.1 1216.2,1837.5 1212.7,1853.7 1208.1,1865.2 1198.9,1874.4 1197.8,1883.6 1217.3,1890.5 1238.1,1890.5 1254.2,1895.1 1263.4,1888.2 1281.9,1885.9 1284.2,1865.2 1283,1819.1 1286.5,1791.5 1296.8,1771.9 1367.1,1771.9 1362.5,1796.1 1369.4,1807.6 1375.2,1819.1 1374,1842.2 1369.4,1865.2 1364.8,1874.4 1378.6,1888.2 1392.8,1897.4 1402,1911.3 1410.1,1932 1399.7,1950.4 1389.4,1968.9 1379,1952.7 1363.6,1943.5 1360.2,1952.7 1346.4,1966.6 1334.8,1973.5 1309.5,1964.3 1295.7,1955 1281.9,1945.8 1268,1936.6 1263.4,1929.7 1258.8,1919.3 1251.9,1916.3 1245,1920.5 1241.5,1932 1238.1,1941.2 1227.7,1949.3 1212.7,1957.3 1208.1,1965.4 1194.3,1968.9 1178.2,1978.1 1173.6,1985 1146.4,1985 1132.1,1976.9 1119.4,1966.6 1109.1,1952.7 1104.5,1941.2 1099.9,1932 1095.2,1928.6 1095.2,1911.3 1102.2,1899.8 1109.1,1888.2 1106.8,1865.2 1103.3,1830.6 1106.8,1796.1" fill="#5d4034" stroke="#5d4034" stroke-width="0.6" stroke-linejoin="round"/>
<polygon points="1405.7,1883.2 1411.3,1898.4 1416.8,1912 1435.9,1923 1445.4,1928.6 1449.5,1942.1 1453.6,1956 1459.2,1969.6 1464.7,1988.7 1470,1996.3 1490.7,1988.7 1501.6,1983.2 1508,1968.9 1517.9,1956 1531.7,1949.1 1548.1,1944.9 1559.9,1940.8 1577.6,1932 1604.8,1948.1 1618.6,1966.6 1632.4,1981.5 1658.5,1973.5 1669.3,1962 1685.4,1952.7 1712.4,1952.7 1738.4,1950.4 1752.2,1950.4 1752.2,1888.2 1712.4,1888.2 1701.5,1869.8 1694.6,1853.7 1698.1,1835.2 1692.3,1819.1 1694.6,1805.3 1685.4,1793.8 1680.8,1782.3 1687.7,1771.9 1658.9,1771.9 1657.8,1778.8 1630.1,1778.8 1609.4,1782.3 1605.9,1796.1 1607.1,1830.6 1609.4,1865.2 1607.1,1888.2 1579.4,1894 1554.1,1892.8 1538,1888.2 1528.8,1879 1535.7,1865.2 1538,1846.8 1535.7,1819.1 1531.1,1800.7 1519.5,1789.2 1521.8,1771.9 1455,1771.9 1445.8,1786.9 1441.2,1819.1 1440.1,1842.2 1441.2,1858.3 1409,1874.4" fill="#5d4034" stroke="#5d4034" stroke-width="0.6" stroke-linejoin="round"/>
<polygon points="1005.4,1897.4 1023.8,1899.8 1033,1906.7 1045.7,1911.3 1033,1920.5 1023.8,1927.4 1005.4,1933.2" fill="#3f2f29" stroke="#3f2f29" stroke-width="0.6" stroke-linejoin="round"/>
<polygon points="1142.5,1826 1146.4,1820.3 1154,1831.8 1149.4,1837.5 1150.5,1858.3 1148.2,1874.4 1143.6,1874.4 1143.6,1858.3 1144.8,1837.5" fill="#3f2f29" stroke="#3f2f29" stroke-width="0.6" stroke-linejoin="round"/>
<polygon points="1139,1881.3 1157.4,1879 1171.3,1892.8 1181.6,1902.1 1187.4,1911.3 1202.4,1915.9 1198.9,1925.1 1180.5,1936.6 1169,1943.5 1146.4,1947.7 1127.5,1934.3 1124,1925.1 1132.1,1911.3" fill="#3f2f29" stroke="#3f2f29" stroke-width="0.6" stroke-linejoin="round"/>
<polygon points="1289.9,1906.7 1298,1897.4 1309.5,1890.5 1318.7,1897.4 1325.6,1909 1344.1,1911.3 1348.7,1920.5 1344.1,1934.3 1337.2,1945.8 1321,1941.2 1309.5,1936.6 1295.7,1920.5" fill="#3f2f29" stroke="#3f2f29" stroke-width="0.6" stroke-linejoin="round"/>
<polygon points="1471.2,1790.3 1478.1,1807.6 1480.4,1826 1481.5,1849.1 1485,1869.8 1483.8,1885.9 1498.8,1902.1 1517.2,1899.8 1528.8,1900.9 1524.1,1909 1517.2,1913.6 1518.4,1925.1 1512.6,1941.2 1498.8,1962 1471.2,1971.6 1466.5,1957.3 1460.8,1934.3 1456.2,1911.3 1455,1897.4 1450.4,1885.9 1461.9,1874.4 1465.4,1853.7 1464.2,1826 1466.1,1805.3" fill="#3f2f29" stroke="#3f2f29" stroke-width="0.6" stroke-linejoin="round"/>
<polygon points="1611.7,1911.3 1623.2,1899.8 1632.4,1897.4 1648.6,1899.8 1678.5,1899.8 1677.4,1890.5 1690,1888.2 1690,1895.1 1685.4,1906.7 1683.1,1920.5 1673.9,1936.6 1664.7,1952.7 1658.5,1963.1 1643.9,1957.3 1627.8,1950.4 1620.9,1936.6" fill="#3f2f29" stroke="#3f2f29" stroke-width="0.6" stroke-linejoin="round"/>
<polygon points="1650.9,1915.9 1657.8,1913.1 1661.2,1917 1657.8,1920.9" fill="#221f1b" stroke="#221f1b" stroke-width="0.6" stroke-linejoin="round"/>
<polygon points="1005.4,2024.2 1014.6,2026.5 1033,1997.7 1037.6,1986.1 1065.3,1985 1090.6,1982.7 1116,1995.4 1157.4,2003.4 1196.6,2005.7 1201.2,1994.2 1240.4,1980.4 1254.2,1964.3 1268,1971.2 1286.5,1980.4 1300.3,1991.9 1307.2,2004.6 1334.8,2004.6 1344.1,1994.2 1362.5,1975.8 1376.3,1989.6 1379,2001.1 1389.4,2009.2 1402,1991.9 1413.6,1980.4 1427.4,1965.4 1438.9,1956.2 1444.7,1957.3 1448.1,1971.2 1452.7,1991.9 1464.2,2014.9 1471.2,2023 1498.8,2016.1 1504.6,2001.1 1514.9,1982.7 1523.7,1972.3 1550.6,1987.3 1577.6,1975.8 1604.8,1989.6 1632.4,2011.5 1658.5,2003.4 1669.3,1989.6 1685.4,1971.2 1712.4,1989.6 1738.4,2003.4 1752.2,2005.7 1778.8,2318.2 973.4,2318.2" fill="#956640"/>
<polygon points="1014.6,2026.5 1033,1997.7 1040,2008 1052.6,2019.6 1053.8,2038 1051.9,2051.8 1046.9,2059.4 1037.6,2065.2 1031.9,2056 1023.8,2044.4 1025,2036.4 1014.6,2026" fill="#7a533b" stroke="#7a533b" stroke-width="0.6" stroke-linejoin="round"/>
<polygon points="1116,1995.4 1112.5,2005.7 1118.3,2026.5 1114.8,2040.3 1125.2,2049.5 1132.1,2053.7 1145.9,2063.3 1173.6,2052.5 1187.4,2046.7 1201.2,2039.8 1205.8,2030.6 1211.6,2020.2 1196.6,2005.7 1157.4,2001.1" fill="#7a533b" stroke="#7a533b" stroke-width="0.6" stroke-linejoin="round"/>
<polygon points="1295.7,2033 1300.3,2021.5 1309.5,2018.1 1318.7,2023.8 1332.5,2038.8 1327.9,2049.2 1318.7,2056.1 1309.5,2066.4 1304.9,2064.1 1295.7,2053.8 1292.9,2046.9" fill="#7a533b" stroke="#7a533b" stroke-width="0.6" stroke-linejoin="round"/>
<polygon points="1617.5,2059.5 1620.9,2049.2 1627.8,2037.6 1632.4,2031.9 1658.5,2031.2 1669.3,2038.8 1672.7,2048 1664.7,2058.4 1658.5,2061.8 1643.9,2068.7 1631.7,2073.4 1620.9,2067.6" fill="#7a533b" stroke="#7a533b" stroke-width="0.6" stroke-linejoin="round"/>
<polygon points="1487.3,2063 1493,2057.9 1498.3,2057.2 1498.3,2066.4 1491.9,2065.3" fill="#7a533b" stroke="#7a533b" stroke-width="0.6" stroke-linejoin="round"/>
<path d="M1159.8,2017.3C1161.1,2015.2 1170,2012.2 1173.6,2012.2C1177.2,2012.2 1177.3,2015.1 1177.7,2017.3C1178.2,2019.4 1178.1,2022 1175.9,2023C1173.7,2024 1169.9,2023.5 1166.7,2022.3C1163.4,2021.2 1158.4,2019.3 1159.8,2017.3Z" fill="#5d4034"/>
<polygon points="1250.8,2003.4 1255.4,1998.4 1261.1,2005.7 1262.3,2014.9 1255.4,2020.7 1250.8,2012.6" fill="#ad803d" stroke="#ad803d" stroke-width="0.6" stroke-linejoin="round"/>
<polygon points="1410.1,2025 1415.9,2015.8 1421.6,2025.7 1415.9,2031.9" fill="#ad803d" stroke="#ad803d" stroke-width="0.6" stroke-linejoin="round"/>
<polygon points="1384.1,2048 1390.5,2041.1 1397.4,2045.7 1394,2051.5 1387.1,2052.6" fill="#ad803d" stroke="#ad803d" stroke-width="0.6" stroke-linejoin="round"/>
<polygon points="1250.8,2010 1262.3,2010 1261.1,2016.9 1255.4,2020.4 1251.4,2016.9" fill="#ad803d" stroke="#ad803d" stroke-width="0.6" stroke-linejoin="round"/>
<polygon points="984.6,2066.4 1014.6,2066.4 1037.6,2076.4 1065.3,2075 1092.5,2076.8 1119.4,2082.6 1146.4,2088.3 1159.8,2079.1 1173.6,2073.4 1200.1,2071.7 1227.7,2079.1 1240.4,2068.7 1254.2,2056.5 1268,2067.6 1281.9,2078.7 1308.8,2080.3 1334.8,2067.6 1361.8,2069.9 1379,2075.7 1389.4,2079.1 1415.9,2078 1428.5,2059.5 1443.5,2046.9 1452.7,2060.7 1466.5,2078 1497,2086 1523.7,2066.4 1550.6,2079.1 1577.6,2061.8 1591,2076.8 1604.8,2091.8 1631.7,2083.7 1658.5,2081.4 1671.6,2067.6 1685.4,2056.1 1712.4,2072.2 1724.6,2083.7 1738.4,2089.5 1768.4,2089.5 1778.8,2318.2 973.4,2318.2" fill="#ad803d"/>
<polygon points="984.6,2076.8 1014.6,2076.8 1037.6,2086 1065.3,2094.1 1092.5,2091.8 1119.4,2104.5 1146.4,2101 1159.8,2090.6 1173.6,2083.7 1200.1,2082.6 1227.7,2096.4 1240.4,2090.6 1254.2,2084.9 1268,2091.8 1281.9,2098.7 1308.8,2097.5 1334.8,2081.4 1361.8,2083.7 1379,2099.9 1389.4,2111.4 1415.9,2109.1 1428.5,2088.3 1443.5,2069.9 1455,2088.3 1466.5,2102.2 1497,2116.4 1523.7,2091.8 1550.6,2098.7 1577.6,2084.2 1591,2097.5 1604.8,2110.2 1631.7,2098.7 1658.5,2111.8 1671.6,2097.5 1685.4,2087.2 1712.4,2090.6 1724.6,2102.2 1738.4,2109.1 1768.4,2109.1 1778.8,2318.2 973.4,2318.2" fill="#bb9c47"/>
<polygon points="984.6,2097.5 1014.6,2097.5 1037.6,2101 1065.3,2105.6 1092.5,2104.5 1106.8,2114.8 1119.4,2125.2 1146.4,2125.2 1159.8,2111.4 1173.6,2102.2 1200.1,2099.9 1227.7,2114.1 1254.2,2101 1281.9,2120.1 1308.8,2117.1 1334.8,2098.7 1361.8,2101 1369.4,2120.6 1379,2129.8 1389.4,2147.1 1415.9,2148.2 1428.5,2118.3 1443.5,2097.5 1455,2116 1466.5,2125.2 1497,2135.6 1523.7,2125.2 1550.6,2134.4 1577.6,2102.2 1591,2120.6 1604.8,2132.1 1631.7,2127.5 1658.5,2140.2 1671.6,2129.8 1685.4,2120.6 1712.4,2122.9 1738.4,2128.6 1768.4,2128.6 1778.8,2318.2 973.4,2318.2" fill="#c9b95f"/>
<polygon points="984.6,2129.3 1014.6,2129.3 1037.6,2127.5 1065.3,2132.1 1092.5,2136.3 1095.2,2145.9 1106.8,2152.8 1119.4,2156.3 1146.4,2145.9 1169,2134.4 1173.6,2127.5 1200.1,2131 1227.7,2133.3 1254.2,2134.4 1268,2142.5 1281.9,2147.1 1308.8,2142.5 1334.8,2136.7 1361.8,2133.3 1369.4,2148.2 1379,2169 1389.4,2181.6 1415.9,2179.3 1422.8,2169 1436.6,2148.2 1443.5,2128 1448.1,2139 1455,2144.8 1466.5,2149.4 1497,2157.4 1523.7,2159.8 1550.6,2164.8 1563.3,2150.5 1577.6,2133.3 1591,2148.2 1604.8,2155.6 1631.7,2150.5 1658.5,2164.4 1685.4,2156.3 1712.4,2147.8 1724.6,2157.4 1738.4,2163.9 1768.4,2163.9 1778.8,2318.2 973.4,2318.2" fill="#d6d684"/>
<polygon points="984.6,2192 1014.6,2192 1037.6,2204.2 1053.8,2198.9 1065.3,2187.4 1079.1,2212.7 1088.3,2228.9 1086,2238.1 1092.5,2249.6 1097.5,2238.1 1095.2,2231.2 1109.1,2212.7 1119.4,2208.1 1146.4,2207.7 1173.6,2200.1 1200.1,2205.8 1210.4,2194.3 1211.6,2187.4 1227.7,2174 1238.1,2187.4 1254.2,2193.2 1270.3,2188.6 1281.9,2177.7 1298,2182.8 1308.8,2188.6 1314.1,2180.5 1334.8,2170.1 1353.3,2182.8 1361.8,2201.2 1369.4,2215 1379,2227.7 1389.4,2239.9 1415.9,2232.3 1425.1,2222 1433.1,2203.5 1436.6,2189.7 1443.5,2180.9 1459.6,2185.6 1478.1,2194.3 1482.7,2202.4 1497,2210.4 1523.7,2222 1532.2,2227.7 1535.7,2238.1 1550.6,2248.9 1557.6,2240.4 1561,2231.2 1563.3,2217.3 1570.2,2203.5 1577.6,2188.6 1604.8,2198.9 1631.7,2208.6 1650.9,2212.7 1658.5,2217.3 1667,2210.4 1685.4,2202.4 1712.4,2212.7 1738.4,2220.8 1768.4,2220.8 1778.8,2318.2 973.4,2318.2" fill="#e4f4b0"/>
<polygon points="1007.7,2274.9 1014.6,2278.4 1023.8,2288.8 1033,2295.7 1040,2307.2 1042.3,2316.4 1007.7,2316.4" fill="#fff" stroke="#fff" stroke-width="0.6" stroke-linejoin="round"/>
<polygon points="1140.2,2316.4 1144.8,2293.4 1148.2,2292.2 1151.7,2304.9 1156.3,2316.4" fill="#fff" stroke="#fff" stroke-width="0.6" stroke-linejoin="round"/>
<polygon points="1247.3,2316.4 1254.2,2293.4 1265.7,2296.8 1263.4,2304.9 1262.3,2316.4" fill="#fff" stroke="#fff" stroke-width="0.6" stroke-linejoin="round"/>
<polygon points="1331.4,2298 1336,2288.8 1348.7,2298 1337.2,2300.7" fill="#fff" stroke="#fff" stroke-width="0.6" stroke-linejoin="round"/>
<polygon points="1341.8,2316.4 1351,2304.9 1361.8,2302.6 1364.8,2316.4" fill="#fff" stroke="#fff" stroke-width="0.6" stroke-linejoin="round"/>
<polygon points="1595.6,2316.4 1604.8,2302.6 1618.6,2298 1631.7,2296.8 1639.3,2304.9 1643.9,2316.4" fill="#fff" stroke="#fff" stroke-width="0.6" stroke-linejoin="round"/>
<rect x="1013.4" y="1763.5" width="725.4" height="10.2" fill="#fdfdfd"/>
<line x1="1013.4" y1="1770" x2="1738.8" y2="1770" stroke="#e6e9ee" stroke-width="1.4"/>
<line x1="1045.7" y1="1765" x2="1045.7" y2="1773.7" stroke="#ebebeb" stroke-width="1.4"/>
<line x1="1126.7" y1="1765" x2="1126.7" y2="1773.7" stroke="#ebebeb" stroke-width="1.4"/>
<line x1="1207.6" y1="1765" x2="1207.6" y2="1773.7" stroke="#ebebeb" stroke-width="1.4"/>
<line x1="1288.6" y1="1765" x2="1288.6" y2="1773.7" stroke="#ebebeb" stroke-width="1.4"/>
<line x1="1369.5" y1="1765" x2="1369.5" y2="1773.7" stroke="#ebebeb" stroke-width="1.4"/>
<line x1="1450.5" y1="1765" x2="1450.5" y2="1773.7" stroke="#ebebeb" stroke-width="1.4"/>
<line x1="1531.4" y1="1765" x2="1531.4" y2="1773.7" stroke="#ebebeb" stroke-width="1.4"/>
<line x1="1612.3" y1="1765" x2="1612.3" y2="1773.7" stroke="#ebebeb" stroke-width="1.4"/>
<line x1="1693.3" y1="1765" x2="1693.3" y2="1773.7" stroke="#ebebeb" stroke-width="1.4"/>
<line x1="1774.2" y1="1765" x2="1774.2" y2="1773.7" stroke="#ebebeb" stroke-width="1.4"/>
<rect x="1201.2" y="1773.2" width="53.2" height="6.3" fill="#eef0f0"/>
<rect x="1605.9" y="1773.2" width="51.9" height="6.3" fill="#eef0f0"/>
<rect x="1713" y="1773.2" width="26" height="6.3" fill="#eef0f0"/>
<rect x="1092.9" y="1785" width="53.1" height="5.3" fill="#fff"/>
<rect x="1713" y="1796" width="26" height="5.8" fill="#fff"/>
<polyline points="1010.6,1877.9 1037.6,1897.4 1053.8,1887.8" fill="none" stroke="#fff" stroke-width="12" stroke-linecap="butt" stroke-linejoin="round"/>
<polyline points="1091.6,1895.1 1118.6,1898.6 1140.2,1876.1" fill="none" stroke="#fff" stroke-width="12" stroke-linecap="butt" stroke-linejoin="round"/>
<polyline points="1172.6,1876.3 1199.6,1895.1 1226.6,1892.4" fill="none" stroke="#fff" stroke-width="12" stroke-linecap="butt" stroke-linejoin="round"/>
<polyline points="1269.8,1879.5 1280.6,1875.6 1307.6,1877.4 1313,1882.1" fill="none" stroke="#fff" stroke-width="12" stroke-linecap="butt" stroke-linejoin="round"/>
<polyline points="1361.6,1882.9 1388.6,1920.5" fill="none" stroke="#fff" stroke-width="12" stroke-linecap="butt" stroke-linejoin="round"/>
<polyline points="1410.2,1883.6 1415.6,1874.4 1442.6,1867.5 1449.3,1872.4" fill="none" stroke="#fff" stroke-width="12" stroke-linecap="butt" stroke-linejoin="round"/>
<polyline points="1496.6,1893.3 1523.6,1873.3 1534.4,1877.1" fill="none" stroke="#fff" stroke-width="12" stroke-linecap="butt" stroke-linejoin="round"/>
<polyline points="1577.6,1884.1 1604.6,1882.5 1631.6,1887.5" fill="none" stroke="#fff" stroke-width="12" stroke-linecap="butt" stroke-linejoin="round"/>
<polyline points="1677.5,1881.8 1685.6,1876 1712.6,1893.3" fill="none" stroke="#fff" stroke-width="12" stroke-linecap="butt" stroke-linejoin="round"/>
<circle cx="1010.6" cy="1877.9" r="10" fill="#fff"/>
<circle cx="1037.6" cy="1897.4" r="10" fill="#fff"/>
<circle cx="1064.6" cy="1881.3" r="10" fill="#fff"/>
<circle cx="1091.6" cy="1895.1" r="10" fill="#fff"/>
<circle cx="1118.6" cy="1898.6" r="10" fill="#fff"/>
<circle cx="1145.6" cy="1870.5" r="10" fill="#fff"/>
<circle cx="1172.6" cy="1876.3" r="10" fill="#fff"/>
<circle cx="1199.6" cy="1895.1" r="10" fill="#fff"/>
<circle cx="1226.6" cy="1892.4" r="10" fill="#fff"/>
<circle cx="1253.6" cy="1885.5" r="10" fill="#fff"/>
<circle cx="1280.6" cy="1875.6" r="10" fill="#fff"/>
<circle cx="1307.6" cy="1877.4" r="10" fill="#fff"/>
<circle cx="1334.6" cy="1900.9" r="10" fill="#fff"/>
<circle cx="1361.6" cy="1882.9" r="10" fill="#fff"/>
<circle cx="1388.6" cy="1920.5" r="10" fill="#fff"/>
<circle cx="1415.6" cy="1874.4" r="10" fill="#fff"/>
<circle cx="1442.6" cy="1867.5" r="10" fill="#fff"/>
<circle cx="1469.6" cy="1887.1" r="10" fill="#fff"/>
<circle cx="1496.6" cy="1893.3" r="10" fill="#fff"/>
<circle cx="1523.6" cy="1873.3" r="10" fill="#fff"/>
<circle cx="1550.6" cy="1882.9" r="10" fill="#fff"/>
<circle cx="1577.6" cy="1884.1" r="10" fill="#fff"/>
<circle cx="1604.6" cy="1882.5" r="10" fill="#fff"/>
<circle cx="1631.6" cy="1887.5" r="10" fill="#fff"/>
<circle cx="1658.6" cy="1895.1" r="10" fill="#fff"/>
<circle cx="1685.6" cy="1876" r="10" fill="#fff"/>
<circle cx="1712.6" cy="1893.3" r="10" fill="#fff"/>
<circle cx="1739.6" cy="1889.4" r="10" fill="#fff"/>
</g>
<rect x="1013.4" y="1763.5" width="725.4" height="549.7" fill="none" stroke="#303030" stroke-width="2.0"/>
<line x1="1006.9" y1="1763.3" x2="1012.4" y2="1763.3" stroke="#2e2e2e" stroke-width="3.0"/>
<line x1="1006.9" y1="1776.4" x2="1012.4" y2="1776.4" stroke="#2e2e2e" stroke-width="3.0"/>
<line x1="1006.9" y1="1873.3" x2="1012.4" y2="1873.3" stroke="#2e2e2e" stroke-width="3.0"/>
<line x1="1006.9" y1="1901.1" x2="1012.4" y2="1901.1" stroke="#2e2e2e" stroke-width="3.0"/>
<line x1="1006.9" y1="1928.5" x2="1012.4" y2="1928.5" stroke="#2e2e2e" stroke-width="3.0"/>
<line x1="1006.9" y1="2038.6" x2="1012.4" y2="2038.6" stroke="#2e2e2e" stroke-width="3.0"/>
<line x1="1006.9" y1="2066.2" x2="1012.4" y2="2066.2" stroke="#2e2e2e" stroke-width="3.0"/>
<line x1="1006.9" y1="2175.9" x2="1012.4" y2="2175.9" stroke="#2e2e2e" stroke-width="3.0"/>
<line x1="1006.9" y1="2313" x2="1012.4" y2="2313" stroke="#2e2e2e" stroke-width="3.0"/>
<text transform="translate(1003.3 1767.4) scale(1.05 1)" font-size="20.6" text-anchor="end" fill="#3e3e3e">0</text>
<text transform="translate(1000.1 1910.5) scale(1.05 1)" font-size="20.6" text-anchor="end" font-weight="bold" fill="#3e3e3e">50</text>
<text transform="translate(996.2 2048) scale(1.05 1)" font-size="20.6" text-anchor="end" fill="#3e3e3e">100</text>
<text transform="translate(996.2 2187.3) scale(1.05 1)" font-size="20.6" text-anchor="end" fill="#3e3e3e">150</text>
<text transform="translate(996.2 2324.6) scale(1.05 1)" font-size="20.6" text-anchor="end" fill="#3e3e3e">200</text>
<text transform="translate(1000.1 1791.3) scale(1.02 1)" font-size="27.0" text-anchor="end" font-weight="bold" fill="#3e3e3e">SRF</text>
<text transform="translate(1003.3 1883.1) scale(1.02 1)" font-size="27.0" text-anchor="end" font-weight="bold" fill="#3e3e3e">BML</text>
<text transform="translate(1000.1 1937.9) scale(1.02 1)" font-size="27.0" text-anchor="end" font-weight="bold" fill="#3e3e3e">SOM</text>
<text transform="translate(1000.1 2075.6) scale(1.02 1)" font-size="27.0" text-anchor="end" font-weight="bold" fill="#3e3e3e">DCM</text>
<line x1="1045.2" y1="2314.2" x2="1045.2" y2="2320.7" stroke="#2e2e2e" stroke-width="3.0"/>
<text transform="translate(1045.2 2345) scale(1.03 1)" font-size="27.2" text-anchor="middle" fill="#3e3e3e">Oct 13</text>
<line x1="1207.1" y1="2314.2" x2="1207.1" y2="2320.7" stroke="#2e2e2e" stroke-width="3.0"/>
<text transform="translate(1207.1 2345) scale(1.03 1)" font-size="27.2" text-anchor="middle" fill="#3e3e3e">Oct 14</text>
<line x1="1369" y1="2314.2" x2="1369" y2="2320.7" stroke="#2e2e2e" stroke-width="3.0"/>
<text transform="translate(1369 2345) scale(1.03 1)" font-size="27.2" text-anchor="middle" fill="#3e3e3e">Oct 15</text>
<line x1="1530.9" y1="2314.2" x2="1530.9" y2="2320.7" stroke="#2e2e2e" stroke-width="3.0"/>
<text transform="translate(1530.9 2345) scale(1.03 1)" font-size="27.2" text-anchor="middle" fill="#3e3e3e">Oct 16</text>
<line x1="1692.8" y1="2314.2" x2="1692.8" y2="2320.7" stroke="#2e2e2e" stroke-width="3.0"/>
<text transform="translate(1692.8 2345) scale(1.03 1)" font-size="27.2" text-anchor="middle" fill="#3e3e3e">Oct 17</text>
<text x="921.5" y="2026" font-size="34" text-anchor="middle" fill="#000" transform="rotate(-90 921.5 2026)">Depth (m)</text>
<text transform="translate(1386 2382) scale(1.02 1)" font-size="37" text-anchor="middle" fill="#000">Local Time</text>
<text x="1022" y="2443.6" font-size="26" fill="#000">Beam</text>
<text x="1022" y="2467.2" font-size="26" fill="#000">Attenuation</text>
<text x="1022" y="2490.8" font-size="26" fill="#000">[1/m]</text>
<rect x="1172.5" y="2426.6" width="53.1" height="37.2" fill="#e4f4b0"/>
<rect x="1225.2" y="2426.6" width="53.1" height="37.2" fill="#d6d684"/>
<rect x="1277.9" y="2426.6" width="53.1" height="37.2" fill="#c9b95f"/>
<rect x="1330.6" y="2426.6" width="53.1" height="37.2" fill="#bb9c47"/>
<rect x="1383.3" y="2426.6" width="53.1" height="37.2" fill="#ad803d"/>
<rect x="1436" y="2426.6" width="53.1" height="37.2" fill="#956640"/>
<rect x="1488.8" y="2426.6" width="53.1" height="37.2" fill="#7a533b"/>
<rect x="1541.5" y="2426.6" width="53.1" height="37.2" fill="#5d4034"/>
<rect x="1594.2" y="2426.6" width="53.1" height="37.2" fill="#3f2f29"/>
<rect x="1646.9" y="2426.6" width="53.1" height="37.2" fill="#221f1b"/>
<text x="1225.4" y="2487.4" font-size="16.9" text-anchor="middle" fill="#000">0.005</text>
<text x="1278.1" y="2487.4" font-size="16.9" text-anchor="middle" fill="#000">0.010</text>
<text x="1330.8" y="2487.4" font-size="16.9" text-anchor="middle" fill="#000">0.015</text>
<text x="1383.5" y="2487.4" font-size="16.9" text-anchor="middle" fill="#000">0.020</text>
<text x="1436.2" y="2487.4" font-size="16.9" text-anchor="middle" fill="#000">0.025</text>
<text x="1489" y="2487.4" font-size="16.9" text-anchor="middle" fill="#000">0.030</text>
<text x="1541.7" y="2487.4" font-size="16.9" text-anchor="middle" fill="#000">0.035</text>
<text x="1594.4" y="2487.4" font-size="16.9" text-anchor="middle" fill="#000">0.040</text>
<text x="1647.1" y="2487.4" font-size="16.9" text-anchor="middle" fill="#000">0.045</text>
</svg></body></html>
